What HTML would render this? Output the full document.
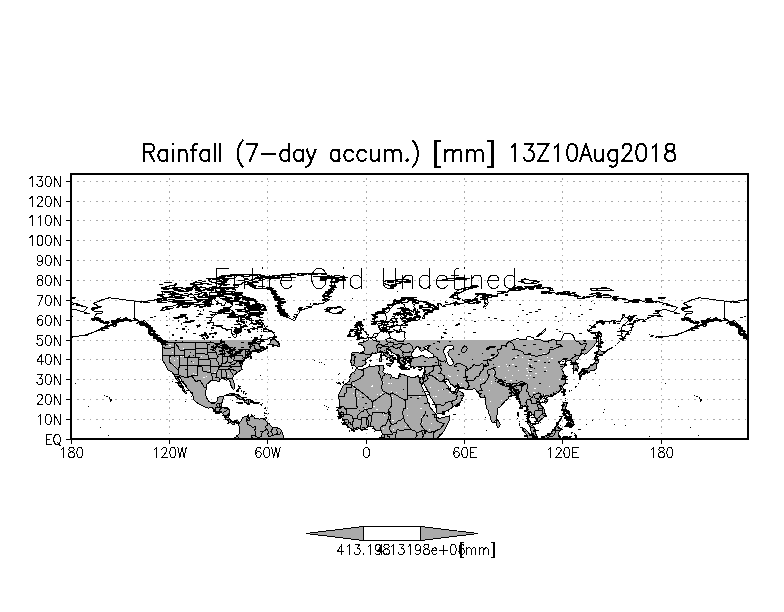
<!DOCTYPE html>
<html><head><meta charset="utf-8"><title>Rainfall</title>
<style>html,body{margin:0;padding:0;background:#fff;font-family:"Liberation Sans",sans-serif}svg{display:block}</style></head>
<body>
<svg width="784" height="612" viewBox="0 0 784 612" shape-rendering="crispEdges">
<defs>
<clipPath id="fr"><rect x="71" y="174" width="677" height="265"/></clipPath>
<clipPath id="band"><rect x="71" y="340" width="677" height="99.2"/></clipPath>
<path id="land" d="M90.7 309l2.4 -1.4l4.4 -0.6l3.3 0.8l-2.8 -1.5l-1.6 -1.4l-3.3 -1.2l2.5 -1.2l3.3 -1.2l3.2 -1.6l4.1 -1l3.3 -1l3.3 0.8l4.1 0.2l3.3 0.6l3.2 0.4l3.3 0.4l3.3 0.2l4.9 0.8l3.3 0.2l3.3 1l2.4 -0.8l3.3 -0.2l4.1 -1l2.5 0l2.4 -1l1.7 1.4l3.2 0.6l1.2 -1l2.9 0.4l2.5 0.2l4.1 1l2.4 0.4l3.3 0.6l1.7 1l-2 0.6l3.6 0.4l4.1 -0.4l2.5 0.4l1.1 1.6l1.6 -0.8l-0.8 -1.4l2.5 -0.6l2.9 0.6l3.3 0.4l3.3 0l3.3 0l1.6 -1.4l2 0.6l0.8 1.8l1.3 -1.4l1.6 -1.6l-0.9 -1.6l-2.3 -1.4l-0.5 -1.8l2.1 -1.4l2.5 0.4l1.6 1.8l1.3 2.2l2 1l0.8 1.4l2.8 0.6l0.5 1.8l1.6 0.2l1.2 -1.2l1.1 -2l0.7 -1.8l2.8 -0.2l2.4 0l1.2 1.2l-0.7 1.4l-1.3 0.6l2 1.4l-1.5 1.4l-2.1 0.9l-2.5 0.2l-1.6 0.2l-1.4 -0.8l-0.3 2l-2.8 0.4l-1 0.6l3.3 1l-1.1 0.8l-3.3 0.4l-1.6 0.6l-2.5 -0.4l2 1.6l-2 0.8l-0.8 1.4l-1.7 1.4l-1.1 2.3l-0.2 1.8l1 0.8l2 0l0.6 3l2.7 0l3.2 0.8l2.5 1.6l3.3 1l3.3 0.6l1.9 0l0.2 3.4l1.5 2.3l1.3 2l1.8 -0.4l1 -2l-0.4 -2.9l-1.1 -1.4l3.6 -1.4l1.5 -2.2l0 -2.6l-3.2 -1.8l1.7 -2.6l-0.8 -2.3l0 -2.2l1.1 -0.4l3.3 0.4l2.6 0l2.8 1.4l0.8 0.8l2.5 0.4l0.8 1.9l-0.5 2l2.1 1.4l2.5 -0.4l1.6 -0.6l1.3 -2.2l1.2 -0.9l0.8 1.7l2.5 3l1.3 2.8l2.4 2.4l3.2 1.2l1.6 1.2l1.3 1.4l1.2 1.9l0.1 1.4l-2.1 0.8l-2.8 0.4l-2.1 1.8l-3.3 0l-3.3 0l-4.1 0.2l-1.6 1.8l-2 1l-1.8 1.4l-2 2.4l2.2 -1.6l2.4 -1.8l3.6 -1.2l2.5 0.2l0.3 1.4l-2.4 0.8l1.3 0.8l0.1 1.2l0.7 1.3l1.6 0.8l2.5 0.2l1.3 0.8l-3.8 1.6l-3.2 2.2l-1.2 -0.6l0.3 -1.4l2.5 -1.6l-1.6 0l-2.5 0.6l0 0.8l-2.5 0.6l-2.4 1.2l-1.2 1.4l-0.1 1l0.5 1.4l0.8 0.2l-2 0.4l-2.1 0.6l-2 0.4l-0.5 0.8l0 1.5l-1.1 1.6l-1.2 -1l0.5 2.4l-1.3 2.2l-0.6 0.4l0.4 2l0.9 1.4l-2 1.2l-2 1.4l-1.8 1l-1.6 1.7l-1.7 1.4l-0.6 2.8l1.3 4l0.8 3.4l-0.1 2.7l-1.2 0.4l-1.3 -1.6l-1.5 -2.9l-0.1 -2.4l-1.3 -2.2l-1.2 -0.6l-1.8 0.8l-2 -1.4l-2.4 0l-1.7 0.2l-0.5 2.2l-1.9 0l-1.7 -0.8l-2.4 -0.4l-2.8 0.8l-2.1 1.8l-2 1.8l-0.2 3.1l-0.6 3l-0.2 4l0.8 3l1.3 2.3l0.9 1.6l1.6 0.8l1.2 0.8l2.1 -0.6l2 -0.2l1.3 -1.2l0.8 -2.5l0.3 -1.2l2.1 -0.6l2.5 -0.4l1.1 0.6l-0.8 2.6l-0.5 2.5l-1 1.4l-0.1 2.4l-0.8 1.8l1.8 0l2.8 0l2.4 0.2l2 1.4l-0.2 2.2l-0.3 2.9l-0.2 3l1.2 2l1.3 1.6l1.1 0.6l1.7 -0.4l1.4 -0.8l1.8 0.2l1.7 1.4l0.8 1.2l0.3 -1.2l1.3 -1.2l0.7 -2.4l1.3 -1.2l2.1 -0.4l2.2 -1.2l1.3 -1l-0.8 1.8l0.6 1.4l2.1 -1.6l0.4 -1.2l0.6 1.4l2 0.6l0.7 1.4l2.4 -0.2l2.5 1l1.6 -0.8l1.7 -0.4l1.6 0.2l-1.2 0.8l2 1l1.2 1.4l1.3 1.2l1.6 1.2l0.8 1.6l1.7 1.5l2.4 0.6l2.5 0.2l2.4 0.6l1.7 1.6l0.8 0.8l0.8 2.6l0.8 2.4l0.9 2.6l0 6.9l-49.2 0l-0.2 -7.5l1.8 -0.8l0.4 -1.2l2.1 -1.8l0.3 -2.4l-0.3 -3.2l0.1 -2.3l-0.8 -1l-0.6 -1.6l-0.4 -1.2l-1.6 -0.6l-0.8 1.2l-0.8 2l-0.9 -0.6l-1.1 -0.2l-1.3 -1l-0.8 -0.2l-1.2 -0.4l0.2 -1.4l-1.8 -0.8l-0.8 -0.4l-1 -0.8l0 -1.6l-1.5 -2l-1.3 -2l-0.5 -0.4l-1.1 0l-2.2 -0.7l-2.6 -0.6l-1.5 -1.4l-2.4 -2.8l-1.7 -0.4l-1.9 1l-2.5 -0.4l-2.4 -1.4l-1.7 -0.6l-2.4 -1.4l-2.5 -1.4l-2.1 -1.6l-2 -2.3l0.3 -2.4l-1.1 -2.6l-1.7 -2.4l-2.4 -2.6l-1.5 -1l-0.2 -1.7l-1.6 -2.2l-1.6 -1.4l-1.2 -1l-1 -2.6l-0.6 -1.8l-1.3 -0.8l-1.3 -0.4l0.1 2l2 2.6l1.1 2.2l1.3 2.8l1.2 1.9l1 2.6l0.6 1l1.3 1.8l-0.8 0.8l-1.1 -1.6l-2.2 -2.2l-0.3 -2.4l-2.1 -1.5l-1.7 -1.8l0.7 -1l-0.7 -1.6l-1.9 -2.6l-1.3 -2.4l-1 -2l-2.1 -2.5l-1.8 -1l-1.8 -0.6l-2 -3.8l-1.2 -2.4l-0.8 -1.2l-1.3 -2.4l-0.8 -1.7l0.1 -3.2l-0.3 -2l0.7 -3.4l0 -3l-1.2 -4.3l2.8 0.4l0.8 1.6l0.4 -1.8l-0.9 -1.4l-0.6 -0.6l-2.1 -1.4l-2.5 -1.4l-2.5 -1.6l-0.8 -2l-1.6 -1.9l-2 -2l0.3 -2l-2.4 -1l-1.7 -2l-2.1 -2l-2.8 -1l-1.6 0.6l-2.1 -1.2l-2.8 -2l-3.3 -0.4l-4.1 -0.1l-3.3 -1.2l-3.3 -0.4l-0.8 1.7l-2.4 1l-3 0.6l0.8 -2.5l2.5 -1.4l-2.8 0.8l-1.6 1.5l-1.7 1.4l-1.1 1l-0.5 1.6l-3.3 1.6l-3.3 2l-3.2 1.4l-3.3 1l-3.3 0.8l2.5 -1.2l3.2 -1.4l1.7 -1.2l3.3 -2l1.1 -2l-2 -0.6l-2.4 0l-3.3 0.4l0 -2.4l-3.3 -0.2l-2.4 -1.1l0 -2l-0.9 -0.2l1.7 -1.8l0.8 -1.4l3.3 -0.6l2.4 -0.2l0 -1.8l-3.2 0l-3.3 0l-2.5 -0.4l-2.4 -1.8zM293.9 320.5l-3.3 -1.9l-4.1 -1.4l-2.4 -2l-2.5 -3.4l-2.5 -3.6l-1.3 -2.9l1.3 -2l3.3 -2l-4.9 -1l-0.8 -2l-1.7 -3l-2.4 -2.9l-2.5 -3l-5.7 -1.4l-6.6 0.4l-4.9 -1l-3.3 -2l-2.4 -1.6l5.7 -1l4.9 -1.4l2.5 -1.9l-2.5 -1l6.6 -1.6l11.5 -1l11.4 -0.4l6.6 -1l9.8 -1l9.9 -0.2l8.2 0.8l8.1 1.4l-4.9 1.4l13.1 0.6l7.4 0l-4.1 2l-3.3 0.9l-3.2 2l0 2l0.8 2l-2.5 2l0.8 2l-1.6 1.4l-2.5 1.6l-3.2 1.9l3.2 1l0 1l-3.2 1l-3.3 1l5.7 0.4l-2.4 1.6l-3.3 1.6l-4.9 1l-4.9 0.8l-3.3 2.5l-3.3 1.4l-3.3 0.4l-3.3 1.2l-0.8 2l-1.6 2l-1.7 2l-0.4 2l-0.7 1.6l-1.3 0.7zM326.2 309l2.1 -1.6l2.5 1.8l1.9 -1.2l3.5 0l3.1 -0.8l2.6 0.6l1.8 2l-1.5 1.6l-3.2 1.2l-3.8 0.8l-2.8 -0.4l-3.3 -0.4l0.8 -1.2l-3.2 -0.8l2.8 -0.6l-3.3 -1zM357.1 367.6l-1.4 -1l-1.8 -1.2l-2.5 0.4l0.2 -3l-1.2 -0.6l1 -2.7l0.3 -3.2l-0.8 -2.4l2 -1.4l3.6 0.2l3.3 0.4l3.2 0l1 -2.4l0.2 -2l-0.2 -1.2l-1.6 -1.9l-1.3 -0.8l-2.3 -0.4l-0.5 -1.2l2 -0.8l3.1 0.4l0 -2l0.6 0.4l2.3 -0.2l2.2 -1.2l0.1 -1.6l1.5 -0.4l1.6 -0.6l1.2 -1.2l0.8 -2l1.3 -0.7l2.5 0l1.9 -0.4l0.7 -0.8l0.2 -1.8l-1 -1.4l0 -2.2l0.8 -0.8l2 -0.8l1.3 -0.4l-0.2 2.4l-0.5 1l-0.6 1.2l-0.4 1l0.7 0.8l1.6 1l2 -0.6l2.1 -0.2l1.2 1l2.9 -0.8l3.8 -1l0.8 0.8l1.6 0l2 -1.6l0 -1.6l0.2 -2l1 -1.2l1.4 -0.2l1 1.2l1.7 -0.2l0.3 -2.2l-1.5 -1l0 -0.8l2.1 -0.6l3.6 0.2l1.7 -0.6l3.6 -0.4l-2.5 -1.1l-3.6 0.2l-2.4 0.4l-3.3 0.5l-1.6 -0.9l-1.2 -1.2l0.2 -2l-0.4 -1.6l2.2 -1.4l3.3 -2.6l1.3 -1.4l-1.8 -0.6l-3.2 0.2l-1.3 1.4l-0.5 1.4l-1.1 1.2l-2.5 1.4l-1.9 1l-0.8 2l-0.2 1.6l2.1 1l0.7 0.9l-1.2 0.8l-1.9 1.4l-0.5 1.6l-0.5 2.4l-1 1l-2.1 0l-0.5 1.4l-2 0l-0.5 -1.2l-0.3 -1l-0.8 -2l-1.3 -2l-0.4 -1.2l-0.6 -1.4l-0.5 1.4l-1.3 0.6l-2 1.2l-2.1 0.4l-2.2 -1.2l-0.8 -1.8l-0.1 -1.9l-0.2 -2l0.5 -1.4l2 -1.2l2.4 -1.2l3 -0.6l1.6 -1.6l2 -1.6l1.6 -1.8l2.1 -1.9l2 -1.6l1.6 -1.4l2.5 -1.4l2.5 -1.2l3.2 -0.4l3.3 -1l3.6 -0.8l3.8 0.2l4.9 1.4l-1.6 1l3.2 0l2.5 0.8l4.1 0.4l4.1 1.4l3.3 1.4l1.1 2l-1.9 0.9l-3.3 0.2l-4.1 -0.6l-4.1 -0.3l0.8 0.9l2.1 2.4l0 1.2l3.6 1l1.7 -0.8l-2.2 -1.4l3 0.4l2.5 0.2l0.8 -1.6l2.4 -1.8l3.3 0.6l0.3 -1.7l-0.6 -2.6l0.3 -0.6l3.3 1.2l0.8 2.2l3.3 -1.6l2.4 -0.6l5 -0.8l1.6 0.4l4.9 -0.8l4.1 0.2l1.7 -2l2.4 -0.4l4.1 0.8l0.8 0.2l3.3 0.8l2.5 1l-1.7 -2.4l-1.1 -2.6l0.3 -1.4l2.5 -2l0.8 -1l1.6 -0.6l3.3 1l0.8 2.6l-0.8 2l0.8 3l1.7 1.4l-2.5 2.6l-0.8 0.9l2.4 -0.5l1.7 -2l0.8 -2.4l-1.3 -3l0.5 -2l1.6 -2l3.3 1l2.5 -0.4l3.2 -1.2l0 -1.3l4.1 -0.4l4.9 -0.4l1.7 -1.8l4.9 -1.4l4.9 -0.8l6.6 -0.2l4.9 -1l6.5 -2.2l3.3 0.6l1.7 1.2l8.2 0.4l2.4 1l0 2l-5.7 2l-4.9 1.5l4.9 -1.3l4.9 0.2l4.1 0.2l4.9 0.9l7.4 -0.5l5.7 0.2l2.5 0.7l2.4 2l-0.8 2l3.3 0.4l3.3 -1.4l4.9 0l5.7 -1.6l1.7 -0.8l4.1 0.4l4.9 0.4l4.9 0.2l2.5 1.6l4.1 1l6.5 -0.2l4.9 1.6l0 1.2l3.3 0l4.9 0l4.9 -0.4l3.3 1.2l0.8 -1.6l4.1 0.4l4.9 0.4l4.1 0.6l2.5 0.8l3.3 1l4.9 1.8l4.9 1l3.3 1.5l-3.3 3.4l-1.6 0.4l-4.1 -1l-4.1 -1.4l-1.7 0.6l-1.6 0.4l-2.5 1l-1.6 -0.4l1.6 2.4l1.7 2l-4.1 0l-4.1 1.4l-4.1 1.6l-2.8 1.9l-3.8 -0.5l-3.2 0.9l-2.5 -0.2l-2 1.4l-0.5 2.4l-1.6 0.4l1.6 2.2l-0.8 1l-1.1 2.4l-2.5 1l-0.5 2.5l-2.3 0.6l-0.5 2l-2.6 1.8l-1.1 -2l-0.7 -3.9l0.2 -4l1.8 -3l2.8 -1.6l2.4 -2.4l3 -1.9l2.8 -2l1.6 -2l-2.5 1l-4.1 0.4l-1.1 1l0.8 1.4l-3.8 -2.2l-2.1 0.4l-2.8 4.3l-1.6 -0.4l-2.5 1l-2.4 -0.2l-0.4 -1l-2.9 0.2l-1.6 0.4l-4.1 0l-4.1 0l-4.1 2.2l-2.5 2l-1.6 1.8l-3.3 2.6l-1.3 0.6l2.9 1.4l0.8 0.6l1.7 -0.4l2.4 -0.2l2.2 1.5l0.1 2l-0.6 1.4l-0.8 2l0 3l-0.4 1l-2.1 3l-1.1 1.3l-2.2 2.2l-1.6 1.6l-1.7 1.8l-2.4 1.4l-2.5 -0.8l-1.6 1.2l-0.5 0.6l-1.1 1.6l-0.5 1.4l-2 1.6l-1.6 0.5l0 1l1.4 1.4l1.5 2.6l0.3 2.4l-0.3 1.4l-2.1 0.8l-2.5 1l-0.1 -2.2l0.3 -2.6l0 -1.6l-1.8 -0.4l-0.8 -1.4l0.5 -2l-1.7 -0.8l-2.1 0.6l-2.5 1.6l0.4 -2.3l0.4 -1.4l-1.6 -0.4l-2 1.9l-2.1 1.4l-1.3 0.8l1 1.6l1.1 1.2l2.5 -0.6l3.3 0.6l-2.5 1.6l-1.1 1.2l-1.7 2l1.5 1.4l1 2.5l1.6 2.4l0.2 1.8l-1.8 1l1.6 0.8l0.3 1.6l-0.6 1.8l-1.5 1.6l-1.1 1.7l-0.7 1.8l-1.5 2l-1.1 0.8l-1.6 1.6l-1.7 1.2l-2.4 0.8l-0.9 0.4l-1.6 0.6l-2.5 1l-1.6 0.6l-0.3 1.8l-0.8 -2.2l-2.2 -0.6l-0.8 0.4l-2 1.4l-1.3 2.5l-0.5 1.4l1.3 2.2l1.7 2.4l1.6 1.6l0.8 2.4l0.5 2.9l-0.1 2.4l-1.2 1.6l-1.9 1.2l-0.9 0.8l-0.5 1l-1.6 1l-0.8 0.8l-0.2 -2.4l-0.6 -1.2l-1.7 -0.4l-0.8 -1.2l-1.1 -2l-2.2 -1l-0.1 -1.3l-1 -0.2l-0.5 0.5l0 2.4l-0.7 1.6l-0.6 1.8l0 2l1.3 1.6l0.8 2.6l2 0.8l1 1.1l1.4 2.4l0.5 1.6l-0.1 2.4l0.9 2l0.5 1.2l-1.4 -0.2l-1.8 -1.4l-1.7 -1.4l-1 -2.2l-0.5 -2.8l-0.3 -2.2l-0.8 -0.7l-1.6 -2.2l-0.7 -0.4l0 -2l0.5 -2.2l-0.2 -3l0.2 -2.4l-1 -2.1l-0.5 -2.8l0 -2l-1.1 -1l-1.3 0.8l-1.7 1.6l-1.5 -0.4l0.4 -3l-0.5 -2.6l-1 -2.2l-1.3 -1.1l-1 -1.4l-0.6 -2.2l-1.4 -0.6l-1.1 1.2l-2.1 0.4l-1.7 0.2l-1.6 0.6l-0.5 2l-1.2 0.9l-1.6 1.2l-1.6 2l-1.7 1.6l-1.3 1.8l-1.6 1.2l-1.5 1l-0.3 2l0.3 2.7l-0.7 2.2l-0.1 2.4l0 1l-1.3 2l-1.3 1l-1.2 1.4l-1.5 -1.6l-0.6 -2.2l-0.8 -3l-1.3 -2.6l-0.7 -3.3l-1.2 -2l-0.8 -3l-0.6 -3.8l-0.4 -2.1l-0.1 -2.4l-0.2 -2l-0.6 2l-1.8 0.8l-1.4 -0.4l-1.9 -2.4l1.6 -0.8l0.5 -0.8l-2.9 -0.4l-0.5 -1l-1.3 -1l-0.7 -1.2l-0.8 -1.2l-3.3 0.4l-3.3 0l-1.6 0.2l-3.3 -0.6l-2.8 -0.6l-1.3 -2.1l-1.1 -0.6l-2.5 0.9l-2.1 -0.3l-1.7 -1.4l-1.6 -0.8l-1.1 -2l-1 -2.2l-2 -0.8l-0.8 0.8l-0.8 0.8l0 1.2l1.1 2l1.3 1.6l1.2 1.3l0 2l1 1.4l0.3 -0.4l0.5 -2.2l0.5 2.2l-0.2 1.4l1.6 0.2l2.5 0.2l2.1 -2.4l1.3 -1.6l0.5 2.2l0.7 1.4l2 1.2l0.9 0.2l2 2.2l-0.8 2.4l-1.3 1.8l-1.2 2.7l-1.3 1.6l-2.4 1l-1.7 1.4l-2.4 0.8l-1.7 2l-2.4 1.2l-2.5 1.4l-2.5 1.4l-4 1.5l-2.5 0.2l-0.5 -1.5l-0.7 -2.6l-0.1 -2.4l-0.7 -2.4l-1.3 -2.6l-1.3 -2.4l-1.6 -1.9l-1 -1.6l-0.5 -3l-1.3 -2.4l-1.3 -1.6l-0.9 -2l-1.4 -2.5l-1 -1.4l-0.3 -3l-1 3l-0.2 0.6l-1.3 -1.6l-1.5 -2.8l-0.1 0.8l0.8 2l1.1 2l1 2.5l1.2 2.8l0.9 2l2 3.6l0.7 2l0.1 2.7l0.4 1.8l1.6 1.4l1.3 4.4l1.5 1.6l1.8 2l2 2.1l1.1 0.8l0.2 1.8l-0.9 0.2l1.2 0.6l1.6 1.6l2.5 -0.6l2.4 -0.8l2.5 -0.4l3.6 -1l-0.2 2.6l-0.8 2.6l-1.3 2.4l-1.3 2.9l-1.6 3.4l-1.7 2.6l-1.6 2l-1.6 1.4l-1.7 1.6l-1.6 1.6l-0.8 0.9l-2.5 5.4l-52.4 0l0.4 -5l0.4 -1.9l0.1 -1.4l0.4 -2.2l0 -1.8l-0.5 -1.4l-1 -1.2l-1 0l-1.8 0.2l-2 0.2l-1.1 -1.8l-1.3 -2l-1.8 -0.4l-2.3 0.2l-1.3 0.4l-2 1l-1.6 1l-1.7 0.6l-1.6 -0.6l-1.7 -0.2l-2.4 0.2l-3.3 1.4l-2.5 -1.4l-2.9 -2.6l-1.1 -0.9l-1.7 -1.2l-1.1 -1.8l-0.2 -1.8l-0.7 -0.4l-1.4 -2l-0.7 -1l-0.8 -1.6l-1.6 -1l-0.5 -2l-0.4 -1.7l-0.8 -1l1.2 -1.6l0.5 -1l0.3 -3l0.5 -2l-0.5 -2l-0.3 -1.9l-0.9 -1l0 -2l1.2 -2.4l0.8 -1.6l1.6 -3l0.7 -1.6l1.5 -1.7l0.8 -1.2l2.5 -1.4l2.1 -1.6l0.8 -2l-0.2 -2.4l1 -2.2l1.2 -1.4l1.4 -0.5l1.4 -1l0.9 -2.2l0.5 -1.2l1 -0.2l1.3 1.4l2.5 -0.2l1.6 0.4l1.7 -1.2l1.6 -0.4l2 -1.2l2.9 -0.6l3.3 0l2.5 -0.4l2.4 0.2l3 -0.8l0.8 0.8l1.1 -0.2l-0.6 1.4l0 1.2l0.6 1.4l-1.1 1.4l-0.5 0.6l1.3 0.6l0.7 0.9l1.8 0.8l1.4 -0.2l2.2 0.8l1.3 0.4l0.3 1.6l1.6 0.6l2.5 1l1.6 0.8l1.7 -1.4l0 -2l1.3 -1.4l2 -0.4l1.9 0.6l0.2 0.8l2.8 0.6l0.3 0.6l3.4 0.6l2.8 0.8l1.7 -0.8l1.6 -0.6l2.1 0.6l2 0.4l1.3 -0.6l0.8 -1.6l0.4 -1.6l0.8 -1.7l0.5 -1.6l0.1 -1.6l0.2 -1.4l0.3 -1l-1.1 0.2l-1.5 -0.4l-1.8 1.4l-1.6 0l-0.9 -0.8l-1.6 -0.6l-0.8 0.8l-1.7 0.4l-1.6 -1l-1.6 0l-0.2 -1.2l-0.3 -1.4l-1.2 -0.6l0.8 -0.6l-0.3 -1.2l-1 -0.6l0 -0.9l1.3 -0.8l1.7 0l1.6 -0.6l0 -0.8l-1.6 0.2l-1.2 0.6l-1.8 0.2l-0.3 -0.4l-1.6 -0.2l-1.3 0.2l-0.7 1.2l0.3 0.4l-1.1 -0.4l-0.7 -0.6l-0.5 1l0.7 1.5l0.5 1.4l1.1 1l0 0.6l-0.8 -0.4l-0.8 0.8l0.3 2l-1.1 0l-0.4 -1l-0.9 0.4l-0.7 -1.8l0.3 -1.2l-0.8 -0.4l-0.5 -1l-0.8 -1.4l-1.1 -1.3l-0.2 -1.8l-0.2 -1.2l-1.3 -1.2l-1.6 -1l-1.8 -1l-2 -1.4l-1.1 -2l-1 0.8l-0.5 -0.4l0.2 -1.2l-1.2 -0.2l-1.1 0.8l0 1.6l0.4 1l1.7 0.8l1 2.2l1.6 1.2l1.6 0.2l-0.3 0.8l1.7 0.8l1.6 0.8l0.8 1l-0.3 0.5l-1.3 -0.9l-0.5 -0.4l-1 1.3l0.8 1.6l-1 1.2l-0.8 1l-0.5 0l0 -0.6l0.5 -1.2l-0.5 -2.3l-1.1 -0.4l-0.8 -0.8l-0.5 -0.4l-1.2 -1l-1.6 -0.6l-0.5 -0.4l-1.2 -1.2l-1.6 -1l-0.3 -1.2l-0.8 -1.2l-1.5 -0.6l-1.5 1l-1.1 0.4l-1.8 1.2l-1.5 -0.4l-1.8 -0.4l-1.7 0.6l-0.1 1.6l0.1 1l-1.6 1l-2.1 0.8l-1 1.6l-1 1.3l0.8 1.4l-1.1 1l-0.3 1.4l-1.9 0.8l-0.6 1l-2.1 0l-1.5 0l-1.7 1.2zM356.7 339.8l2.4 -0.4l1.2 -0.4l2.4 -0.2l3.3 -0.4l2.3 -0.8l-1 -0.6l1.5 -2.2l-0.7 -0.6l-1.6 0l-0.2 -1.1l-0.6 -1l-1.7 -1.2l-0.6 -1.8l-1 -1l-1.3 0l0.8 -1l0.8 -1.4l0.3 -0.8l-2.7 -0.2l-1.2 0.4l1.5 -1.6l0.5 -0.6l-3.3 0l-0.8 1.6l-0.5 1.2l0.3 1.4l0.5 1l-0.6 1.2l1.4 -0.2l-0.3 1l1.6 0.4l1.4 -0.2l-0.5 1.2l0.8 1l0 0.8l-2.1 0.1l-0.5 0l0.5 1l0.4 0.6l-0.9 0.8l-1 0.6l1.6 0.4l2 0.4l0.5 -0.2l-1.3 0.6l-1.7 0.6l-1.9 1.6zM355.7 335.6l0.1 -2.2l1 -2.3l-1 -1.4l-1.8 -0.2l-1.6 0.6l-0.3 1.2l-2.5 0.4l0.3 1.6l0.9 0.5l-0.5 1l-1.2 1l0.5 1l0.8 0.2l2 -0.6l2.1 -0.6l1.2 -0.2zM580.5 371.8l2.3 -0.6l2.8 -0.6l2 0l0 1.6l1 0.6l1.6 -1.8l0.8 -0.4l1.5 0l1.1 0l1.4 -1.4l0.4 0.6l1.4 -1.4l-0.4 -2.2l0.7 -3l0.8 0l0.7 -2.4l-0.7 -1.9l-0.2 -1.8l-0.9 -0.2l-0.9 0.6l-0.5 1.2l-0.1 1.3l-0.2 2.2l-1.3 1.6l-1.3 1.6l-1.5 -0.6l-1 1.4l-1.1 1.6l-0.3 0.8l-1 0l-1.7 0l-1.9 0.2l-1.7 1.2l-1.6 1l-0.2 0.8zM580.5 372l1.3 0.6l0.4 1.3l-0.7 2.2l-0.8 1.2l-0.5 0.2l-0.8 -0.4l0 -2l-0.8 -0.8l0 -1.2l1.1 -0.5l0.8 -0.6zM583.2 372l1.6 -0.6l1.8 0l0.2 0.8l-0.9 0.9l-1.4 -0.1l-0.5 1.3l-1 -1l0.2 -1.3zM595.4 356.9l0.5 -1.6l0.4 -1.2l-0.4 -0.8l1.7 0.2l0.6 -2.6l0 -1.8l0.5 -0.2l1.7 1.8l2.1 1.2l1.6 -0.6l-0.1 1.4l1 0.6l-2.5 0.8l-1.6 1.8l-2.2 -1l-1.6 0l-0.5 0.6l0.6 0.8l-1.4 0.8l-0.4 -0.2zM598.7 347.9l0.8 -1.3l1.5 0.3l0 1l-0.6 -2.5l-0.5 -1.4l0.5 -2.4l2.1 0.4l0.6 0.6l-2.2 -1.6l0 -3l0.3 -3l-0.8 -1.9l-0.5 -1.8l-0.7 1.8l-0.8 1.9l0 2l0.5 2l0 3l-0.2 2l0 1.6l-0.1 1.3l0.1 1zM564.3 389.2l1.6 0.4l-0.8 2l-0.3 2l-0.8 2l-1 -1.6l0 -2l1 -1.8l0.3 -1zM544.1 401.1l1 -1.5l2.2 -0.2l0.6 0.9l-1 2l-1.4 0.8l-1.4 -0.8l0 -1.2zM496.8 420l0.6 -0.2l1.7 2.6l1 2l-0.4 1.9l-1.4 1.2l-1.2 -0.6l-0.3 -2.1l0.1 -2.4l-0.1 -2.4zM563.7 402.5l2.6 0.2l0.1 2.8l-1.1 2.4l0.2 2.6l1.4 0.6l2 0.8l0.5 2.3l-1.3 -1l-1.2 -0.7l-1.4 -0.8l-1.7 0l-0.1 -1.4l-1 -0.8l-0.2 -2.4l0.7 -0.8l0.1 -1.8l0.4 -2zM566.1 425.6l0.7 -1.8l1.3 -1.6l1.6 0.2l2 -1l0 -1.6l1.3 2l0.3 3l-0.5 1.9l-0.8 -0.9l-0.6 2.1l-1.4 -0.6l-0.8 -1.7l-0.8 -1.2l-1.1 0.2l-1.2 1zM569.7 414.4l1.7 0l0.6 2.6l-1.1 0l0.3 2l-0.7 0l-0.5 -2.2l-0.3 -2.4zM565.9 415.8l1.7 0.4l0.8 1.4l-0.3 3.4l-1.3 -1.4l-0.2 -1.4l-0.8 0.2l0.1 -2.6zM568.2 419.4l1 -2.4l0.2 1.4l-0.8 2l-0.4 -1zM558.1 422.6l1.6 -1.8l2 -2.6l0.1 -1.4l-0.9 1.4l-1.7 2.6l-1.1 1.8zM563.3 412.7l1.5 0l0.3 1.9l-0.8 0.2l-0.8 -1.4l-0.2 -0.7zM544.6 445.2l0 -8.9l1.2 -1l1.3 0.6l1.3 -1.6l2.5 -1.2l1.6 -2.4l1.2 -1l1.3 -1.4l1.1 -2l1.3 -0.9l1.2 0.9l0.3 1.2l2.5 1.4l-1.2 1.4l-1.1 1l-0.4 1.4l0.4 2.6l1.6 2l-1.6 0.6l-0.5 7.3l-14 0zM522.2 428.3l2.8 0.6l1.6 2l1.3 1.2l2 2.2l1.3 1l1.1 0.6l1.7 1.4l1.1 1l1 6.9l-7.9 0l0 -6.3l-0.4 -2.8l-1.8 -1.8l-1.8 -2.4l-1.7 -2.2l-0.3 -1.4zM562.3 445.2l0.4 -7.5l1.3 -1l1.9 0.6l2.5 0.2l2.5 -1.4l0.3 0.6l-1.2 1.6l-2.4 0.2l-2.5 -0.2l-1.6 0.2l-0.3 6.7l-0.9 0zM575 445.2l0 -7.9l0.8 -2.2l1.1 1.2l-1.1 1.4l1 1l-1 6.5l-0.8 0zM226.9 395.8l1.4 -1.6l2.5 -0.8l2.4 0l2.5 1.2l2.5 0.6l1.6 1.2l2.1 1.4l2.5 1.4l-1.3 0.5l-4.1 0l0.5 -1.3l-2.2 -0.8l-1.6 -1.4l-2.5 -0.8l-1.6 -0.6l-1.6 0.6l-1.7 0.6l-1.4 -0.2zM244.1 402.7l1.8 -2.8l2.1 0l2.5 0l1.6 1l1.8 1.4l-1 0.6l-2.4 0l-1.7 1l-1.6 -0.8l-3.1 -0.4zM237.7 402.9l2.1 -0.4l1.3 1l-1.3 0.4l-2.1 -1zM255.9 402.5l2.4 0.2l-0.1 0.8l-2.3 0l0 -1zM264.6 418l1.6 -0.2l-0.2 1.4l-1.4 0l0 -1.2zM268.8 344.8l1.3 -1.8l0.8 -2l1.7 -2.4l2.3 -1.8l-0.7 2.2l0.8 1l1.7 1l1.6 0.6l0.8 1.4l0 2l0.4 1.4l-1.5 0.2l-1.3 -1.2l-1.7 0.6l-1.6 -1l-2.1 -0.2l-2.5 0zM155.7 338.6l3 0.4l2.4 1.4l2 1.6l0.7 1.2l-1.8 -0.2l-2.5 -1.4l-2.5 -1.6l-1.3 -1.4zM260.6 346.6l2.2 0.3l1.6 0.2l-0.8 0.8l-2.2 -0.4l-0.8 -0.9zM260.3 340.2l3.3 0.6l1.3 1l-3 -0.4l-1.6 -1.2zM265.4 348.7l1.6 -2.7l1 1.9l-1.2 0.8l-1.4 0zM148 331.9l2 0.2l1.1 3.5l-1.8 -1.2l-1.3 -2.5zM112.8 325.1l2.8 -0.8l1 1.2l-2.7 1l-1.1 -1.4zM84.6 312.8l2.8 0.2l2 0.6l-2 0.4l-2.8 -0.4l0 -0.8zM91.8 319.8l2.5 -0.2l0.1 0.7l-2.1 0.2l-0.5 -0.7zM110.3 399.2l1.7 0.9l-1.2 1.4l-0.5 -1.4l0 -0.9zM109.2 397.6l1.1 0.4l-0.6 0.4l-0.5 -0.8zM106.7 396.4l0.8 0.4l-0.6 0.2l-0.2 -0.6zM104.3 395.2l0.6 0.2l-0.5 0.4l-0.1 -0.6zM265.2 306.9l-0.8 -1.6l-3.3 -1l-4.1 -1l-2.4 -2l0.8 -1.4l-4.1 -0.8l-2.5 -1.2l-4.1 -1.2l-3.3 -1l-3.2 -1l-4.1 -1.3l-1.7 -0.4l-4.1 0.4l-2.4 0.9l-0.8 -1.5l-6.3 -0.2l-0.3 2.7l0.8 2.4l2.5 1l3.3 1.2l1.6 0.4l4.9 0.2l4.1 0.2l2.8 0l0.5 0.6l2.4 1.4l2.5 1l2.5 1l0 2l-1.7 1.5l0.8 1l-5.7 0.4l-2.1 1l0.5 1.2l2.4 0l3.3 -0.6l3.3 1.4l1.6 1.6l3.3 0.6l3.3 0.8l2.4 0.8l1.7 -0.2l-3.3 -2l-2.5 -1.4l2.5 0.8l3.3 1.2l0.6 -1l1 -1.6l-1.6 -1l-4.1 -2l-0.8 -1l3.2 -0.6l2.5 1.6l1.6 1l2.5 -1.4l0.8 -1.9zM173.8 300.3l3.7 1.4l2.5 1.4l5.7 0l4.1 -0.6l4.1 0l4.9 -0.2l1.7 -1.4l-2.5 -1.6l-3.3 -1l-0.8 -2.6l-2.4 -1.8l-2.5 0.4l-0.5 2l-3.6 -1l-4.9 -0.4l-5.8 -0.4l-3.2 2.4l2.4 0.8l3.3 -0.2l-2.9 2.8zM161.1 296.5l3.3 1.4l4.1 -0.6l4.1 -1.6l3.3 -1.4l0.8 -0.7l-3.3 -1.6l-5.7 -0.6l-5.7 0.4l0.8 1.9l-2.5 1l0.8 1.8zM236.5 287.8l-4.9 -0.2l-6.5 0l-5.8 -0.2l2.5 -2.6l4.9 0.6l-3.3 -2l3.3 -1.4l-3.3 -1.6l4.9 -0.5l-6.5 -1l-4.9 -1.4l6.5 -1l8.2 -1.6l11.5 -0.6l11.5 0.2l9.8 1l-3.3 2l-4.9 0.8l-4.9 1.8l-3.3 1.3l-4.9 1l-1.7 1.6l-3.2 1.4l0 1.4l-1.7 1zM222.6 284l-4.1 -0.2l-4.1 -1l-4.9 -1.4l-0.8 -1.5l3.2 -1.8l4.1 0.8l3.3 1l3.3 1.5l0 2.6zM234.9 291.2l-6.6 0.2l-6.5 0l-6.6 -0.4l0 -2.2l-5.7 -1.4l5.7 -0.6l4.9 1.6l6.6 -0.6l5.7 1.2l3.3 0.8l-0.8 1.4zM173.4 289.8l5.8 1l6.5 0.4l5.8 -0.8l0.8 -1.6l-4.1 -1.2l-3.3 0.8l-4.1 -0.6l-4.9 0.2l-2.5 1.8zM198.8 296.3l4.1 1.2l4.1 -0.6l0.8 -2.2l-1.6 -1.7l-4.9 -0.2l-2.5 1.5l0 2zM209.5 295.9l4.1 0.4l4.1 -1.6l0 -1.9l-4.1 -0.6l-4.4 0.8l0.3 2.9zM195.6 290l5.7 0.6l4.1 -0.8l0 -2.4l-4.9 -0.4l-4.9 1l0 2zM164.4 288.4l4.9 0.4l4.9 -1.4l0.9 -1.8l-4.9 0.2l-5 1.2l-0.8 1.4zM193.9 285l5.8 -0.2l4.1 -1l-3.3 -1.4l-4.9 -0.4l-3.3 1.4l1.6 1.6zM207.8 290.4l4.1 0.6l1.7 -1.2l-3.3 -0.6l-2.5 1.2zM233.2 293.4l4.1 1.3l4.1 -0.2l-1.6 -1.1l-4.9 -0.6l-1.7 0.6zM223.4 309.6l3.3 -1l2.5 -0.2l3.2 2.8l1.7 1.2l-2.5 0.6l-3.3 0.8l-2.4 0l-2.5 -0.8l1.7 -1.4l-1.7 -2zM230 314.4l2.4 0l2.5 0.8l-2.5 0.6l-2.4 -0.6l0 -0.8zM234.4 315.4l1.3 0l0 1.6l-1.3 -0.4l0 -1.2zM202.9 302.3l3.3 0.8l3 -0.4l-0.5 -1.4l-2.5 -0.8l-3.3 1.8zM239 304.3l3.3 1l0 0.6l-2.5 -0.2l-0.8 -1.4zM231.6 333.8l3.3 0.6l-1.7 0.4l-1.6 -1zM234.9 327.1l1.6 0l0 1.4l-1.6 -0.4l0 -1zM383.2 282.4l2.5 -1.6l4.9 0l1.6 -0.4l4.9 0.6l4.1 1.8l-4.1 0.6l-0.8 2l-2.4 1.6l-3.3 -0.6l-2.5 -1.6l-4.1 -1.4l-0.8 -1zM395.5 280.1l6.6 -0.6l6.5 0.6l1.6 0.9l-6.5 0.8l-6.6 -0.8l-1.6 -0.9zM450.4 296.7l2.5 1.2l4.1 1l3.2 0l-2.4 -1.6l-0.8 -2l0.8 -1.6l-3.3 -0.1l-1.6 1.1l-2.5 2zM454.5 293.4l4.1 0l3.3 -1.6l4.1 -2l6.5 -1.8l5.8 -1.4l-4.1 -0.2l-6.6 1.2l-6.5 1.4l-3.3 1.4l-3.3 3zM443 279.5l6.6 0.9l6.5 -0.5l8.2 -0.4l4.9 -1l-8.1 -1l-9.9 1l-8.2 1zM521.7 282.4l6.5 1.4l6.6 0l3.3 -1.4l-2.5 -2l-5.7 0l-4.9 -1.9l-3.3 1.6l0 2.3zM590.5 289.8l4.9 1l6.6 -0.2l8.2 -0.2l3.3 0.4l-3.3 -1.8l-8.2 -0.6l-8.2 0l-3.3 1.4zM595.4 293.4l5 0.5l0.8 -0.5l-4.1 -1l-1.7 1zM658.5 298.3l2.5 0.4l3.3 -0.4l0.8 -0.6l-4.1 -0.4l-2.5 0.6l0 0.4zM445.5 301.9l2.4 0.4l0 0.4l-2.4 -0.4l0 -0.4zM461.9 299.9l2.4 0.4l0 0.6l-1.6 0l-0.8 -1zM386.5 363.8l1.6 -0.4l3.5 -0.2l-0.7 2l-0.3 1.2l-1.7 -0.6l-2.4 -1.2l0 -0.8zM379.4 358.1l1.7 -0.6l1 1.4l-0.4 2.5l-0.9 0.4l-1 -0.4l0 -2.1l-0.4 -1.2zM380.1 355.1l1.3 -1.2l0.2 2l-0.5 1.2l-0.7 -0.4l-0.3 -1.6zM404.5 368.8l1.7 0.2l2.1 0.2l0.8 0.2l-2.1 0.6l-2.3 -0.6l-0.2 -0.6zM418.9 369.8l1.2 -0.6l2.4 -0.8l-0.8 1.4l-1.6 0.8l-1.2 -0.8zM369.9 360.6l1.3 -0.6l0.4 0.6l-0.7 0.6l-1 -0.6zM403.7 362l2 0.6l0.6 1.2l-1 -0.6l-1.3 -0.6l-0.3 -0.6zM395.7 325.5l1.4 -1.2l-0.1 1l-1 0.8l-0.3 -0.6zM384 328.7l1.7 -0.8l0.9 0.8l-0.6 1l-1.6 0l-0.4 -1zM382.1 329.1l1.4 0l0 0.8l-1.1 0l-0.3 -0.8zM453.4 414.2l1.9 0l-0.6 0.6l-1.3 -0.6zM338.3 382.9l1.1 -0.2l-0.4 1l-0.7 -0.8zM340.1 383.5l0.7 0l-0.2 0.6l-0.5 -0.6zM342.6 382.5l0.6 -0.2l-0.1 1.2l-0.5 -1zM327.2 409.1l0.4 0l-0.1 0.6l-0.3 -0.6zM517.9 412.5l0.5 0.3l-0.1 3.4l-0.5 -0.2l0.1 -3.5zM519.6 424.8l0.3 0.4l-0.2 0.6l-0.1 -1zM604.5 351.9l1.6 -1l2.1 -1.6l1.7 -0.4l-2.2 1.4l-2.4 1.8l-0.8 -0.2zM611 348.3l1.7 -0.8l-0.9 1l-0.8 -0.2zM572.8 373l1.2 -0.2l-0.5 0.5l-0.7 -0.3zM575.3 387.2l1 -1.1l-0.5 0.9l-0.5 0.2zM634 322.1l1.6 -0.2l-0.8 1.2l-0.8 -1zM237.8 389.2l0.9 0l-0.2 1.8l-0.7 -0.4l0 -1.4zM238.5 385.9l1.3 0.7l-0.3 1l-1 -1.7zM245.2 397.2l1.2 -0.2l-0.4 0.8l-0.8 -0.6z"/>
<path id="landT" d="M563.7 402.5l2.6 0.2l0.1 2.8l-1.1 2.4l0.2 2.6l1.4 0.6l2 0.8l0.5 2.3l-1.3 -1l-1.2 -0.7l-1.4 -0.8l-1.7 0l-0.1 -1.4l-1 -0.8l-0.2 -2.4l0.7 -0.8l0.1 -1.8l0.4 -2zM566.1 425.6l0.7 -1.8l1.3 -1.6l1.6 0.2l2 -1l0 -1.6l1.3 2l0.3 3l-0.5 1.9l-0.8 -0.9l-0.6 2.1l-1.4 -0.6l-0.8 -1.7l-0.8 -1.2l-1.1 0.2l-1.2 1zM569.7 414.4l1.7 0l0.6 2.6l-1.1 0l0.3 2l-0.7 0l-0.5 -2.2l-0.3 -2.4zM565.9 415.8l1.7 0.4l0.8 1.4l-0.3 3.4l-1.3 -1.4l-0.2 -1.4l-0.8 0.2l0.1 -2.6zM568.2 419.4l1 -2.4l0.2 1.4l-0.8 2l-0.4 -1zM558.1 422.6l1.6 -1.8l2 -2.6l0.1 -1.4l-0.9 1.4l-1.7 2.6l-1.1 1.8zM563.3 412.7l1.5 0l0.3 1.9l-0.8 0.2l-0.8 -1.4l-0.2 -0.7zM268.8 344.8l1.3 -1.8l0.8 -2l1.7 -2.4l2.3 -1.8l-0.7 2.2l0.8 1l1.7 1l1.6 0.6l0.8 1.4l0 2l0.4 1.4l-1.5 0.2l-1.3 -1.2l-1.7 0.6l-1.6 -1l-2.1 -0.2l-2.5 0zM155.7 338.6l3 0.4l2.4 1.4l2 1.6l0.7 1.2l-1.8 -0.2l-2.5 -1.4l-2.5 -1.6l-1.3 -1.4zM148 331.9l2 0.2l1.1 3.5l-1.8 -1.2l-1.3 -2.5zM112.8 325.1l2.8 -0.8l1 1.2l-2.7 1l-1.1 -1.4zM265.2 306.9l-0.8 -1.6l-3.3 -1l-4.1 -1l-2.4 -2l0.8 -1.4l-4.1 -0.8l-2.5 -1.2l-4.1 -1.2l-3.3 -1l-3.2 -1l-4.1 -1.3l-1.7 -0.4l-4.1 0.4l-2.4 0.9l-0.8 -1.5l-6.3 -0.2l-0.3 2.7l0.8 2.4l2.5 1l3.3 1.2l1.6 0.4l4.9 0.2l4.1 0.2l2.8 0l0.5 0.6l2.4 1.4l2.5 1l2.5 1l0 2l-1.7 1.5l0.8 1l-5.7 0.4l-2.1 1l0.5 1.2l2.4 0l3.3 -0.6l3.3 1.4l1.6 1.6l3.3 0.6l3.3 0.8l2.4 0.8l1.7 -0.2l-3.3 -2l-2.5 -1.4l2.5 0.8l3.3 1.2l0.6 -1l1 -1.6l-1.6 -1l-4.1 -2l-0.8 -1l3.2 -0.6l2.5 1.6l1.6 1l2.5 -1.4l0.8 -1.9zM173.8 300.3l3.7 1.4l2.5 1.4l5.7 0l4.1 -0.6l4.1 0l4.9 -0.2l1.7 -1.4l-2.5 -1.6l-3.3 -1l-0.8 -2.6l-2.4 -1.8l-2.5 0.4l-0.5 2l-3.6 -1l-4.9 -0.4l-5.8 -0.4l-3.2 2.4l2.4 0.8l3.3 -0.2l-2.9 2.8zM161.1 296.5l3.3 1.4l4.1 -0.6l4.1 -1.6l3.3 -1.4l0.8 -0.7l-3.3 -1.6l-5.7 -0.6l-5.7 0.4l0.8 1.9l-2.5 1l0.8 1.8zM236.5 287.8l-4.9 -0.2l-6.5 0l-5.8 -0.2l2.5 -2.6l4.9 0.6l-3.3 -2l3.3 -1.4l-3.3 -1.6l4.9 -0.5l-6.5 -1l-4.9 -1.4l6.5 -1l8.2 -1.6l11.5 -0.6l11.5 0.2l9.8 1l-3.3 2l-4.9 0.8l-4.9 1.8l-3.3 1.3l-4.9 1l-1.7 1.6l-3.2 1.4l0 1.4l-1.7 1zM222.6 284l-4.1 -0.2l-4.1 -1l-4.9 -1.4l-0.8 -1.5l3.2 -1.8l4.1 0.8l3.3 1l3.3 1.5l0 2.6zM234.9 291.2l-6.6 0.2l-6.5 0l-6.6 -0.4l0 -2.2l-5.7 -1.4l5.7 -0.6l4.9 1.6l6.6 -0.6l5.7 1.2l3.3 0.8l-0.8 1.4zM173.4 289.8l5.8 1l6.5 0.4l5.8 -0.8l0.8 -1.6l-4.1 -1.2l-3.3 0.8l-4.1 -0.6l-4.9 0.2l-2.5 1.8zM198.8 296.3l4.1 1.2l4.1 -0.6l0.8 -2.2l-1.6 -1.7l-4.9 -0.2l-2.5 1.5l0 2zM209.5 295.9l4.1 0.4l4.1 -1.6l0 -1.9l-4.1 -0.6l-4.4 0.8l0.3 2.9zM195.6 290l5.7 0.6l4.1 -0.8l0 -2.4l-4.9 -0.4l-4.9 1l0 2zM164.4 288.4l4.9 0.4l4.9 -1.4l0.9 -1.8l-4.9 0.2l-5 1.2l-0.8 1.4zM193.9 285l5.8 -0.2l4.1 -1l-3.3 -1.4l-4.9 -0.4l-3.3 1.4l1.6 1.6zM207.8 290.4l4.1 0.6l1.7 -1.2l-3.3 -0.6l-2.5 1.2zM233.2 293.4l4.1 1.3l4.1 -0.2l-1.6 -1.1l-4.9 -0.6l-1.7 0.6zM223.4 309.6l3.3 -1l2.5 -0.2l3.2 2.8l1.7 1.2l-2.5 0.6l-3.3 0.8l-2.4 0l-2.5 -0.8l1.7 -1.4l-1.7 -2zM230 314.4l2.4 0l2.5 0.8l-2.5 0.6l-2.4 -0.6l0 -0.8zM234.4 315.4l1.3 0l0 1.6l-1.3 -0.4l0 -1.2zM202.9 302.3l3.3 0.8l3 -0.4l-0.5 -1.4l-2.5 -0.8l-3.3 1.8zM239 304.3l3.3 1l0 0.6l-2.5 -0.2l-0.8 -1.4zM383.2 282.4l2.5 -1.6l4.9 0l1.6 -0.4l4.9 0.6l4.1 1.8l-4.1 0.6l-0.8 2l-2.4 1.6l-3.3 -0.6l-2.5 -1.6l-4.1 -1.4l-0.8 -1zM395.5 280.1l6.6 -0.6l6.5 0.6l1.6 0.9l-6.5 0.8l-6.6 -0.8l-1.6 -0.9zM450.4 296.7l2.5 1.2l4.1 1l3.2 0l-2.4 -1.6l-0.8 -2l0.8 -1.6l-3.3 -0.1l-1.6 1.1l-2.5 2zM454.5 293.4l4.1 0l3.3 -1.6l4.1 -2l6.5 -1.8l5.8 -1.4l-4.1 -0.2l-6.6 1.2l-6.5 1.4l-3.3 1.4l-3.3 3z"/>
<path id="bord" d="M134.9 301.1l0 18.5l3.3 0.4l2.5 2.3l1.6 -1.2l2.5 -0.4l2.4 2.4l2.5 3l3.2 2l0 2M164.1 342l45.9 0l0.6 -0.6l0.4 1.2l2.6 0.2l2.4 1l3.3 0.2l1.7 -0.6l6 2.8l0.5 0.7l1.7 1l1.6 1.4l0.2 4.6l-1 1.4l-0.2 0.6l3.4 -0.6l3.3 -1l0 -1l1.7 -0.6l2.4 -1l2.5 -1.8l5.7 0l1.2 -0.8l0.8 -1.6l0.5 -0.9l1.3 -1.4l1.5 0.2l0.8 0.6l0 2.3l0.6 1.2l0.7 0.4M174.1 374.7l3.9 -0.4l-0.1 0.4l6.2 2.4l4.6 0l0 -1l2.8 0l2.4 2.2l0.8 2.2l2.2 1.2l1.1 -1.6l1.7 0l1.6 2.6l1.6 2l0.9 2.1l2.9 1M214.9 410.5l0.3 -1.6l0.5 -1.4l2 -0.2l-1.5 -2.2l0.7 -1.2l2.9 0l0 3.8M219.8 403.9l0.8 -0.4l0.7 -1M221.3 408.1l-1.5 1.8l-0.3 0.8l-1.2 1.4M219.6 410.7l1.4 0.8l1.1 1.2M222.9 413.4l1 -1.5l2 -0.4l1.1 -1.6l2.6 -0.4M225.5 417.2l1.5 0.2l1.8 0.4M230.1 423.2l0 -1.8l0.5 -1M238.3 425l1 -2.6M249.1 415.8l-1.9 1.4l-0.8 3.2l0.9 2.2l0.7 2l2.1 0.8l2 1.7l3.3 -0.2l-0.5 3.4l0.8 2.4l-0.3 2.2l1 2M256.4 436.9l-1 -1.2l-3.8 0.2l0.5 2l-0.8 0.4l0 2.9M236.9 436.5l1.8 1.2l1.9 1.2l2 0.5M256.4 436.9l2.3 0.8l2.4 -1.4l0 -2l1.7 -2.6l-2.5 -0.6l2.8 0.2l2.1 -0.6l1.3 -1.8M266.5 428.9l-1.1 -1.4l0.6 -1.5l1.2 -0.6l0.6 -2.6M266.5 428.9l1.2 0.4l0.3 1.4l0.5 1.6l-0.8 2l0.5 1.4l1.4 1.2l2.5 -1.4l1.3 0M272.3 427.5l-0.2 1.8l-1.2 2l0.9 1.4l1.6 2.8M277.5 427.7l-0.8 1.8l0.8 2.8l-1 2.4M273.4 435.5l1 -1.2l2.1 0.4l2.6 0.2l0.9 -0.8l1.3 -2.8M248.5 400.1l0 1.8l-0.2 1.6M248.7 417.6l0.9 1.8l-0.3 1.6l-1.3 -0.2l0 -1.8l0.7 -1.4M225.2 415.6l1.5 0l0.3 1.4l-1.5 0l-0.3 -1.4M344.4 384.3l7.3 0M351.7 384.3l0 3.3l-5.4 0l0 5l-1.6 1l0 3.4l-6.4 0M351.7 384.3l0 -2l6.1 -2.6l2.3 -1.4l1 -1.8l2.9 -1l-0.8 -2.7l-0.2 -2l-0.6 -1.2M351.7 385.1l6.4 4.5l9.9 7.8l0.9 1.6l2.3 0.9l0.2 1.6l1.5 -0.2l2.9 -1.4l2.5 -2.1l7.4 -5.2M385.7 392.6l-3.3 -2l-0.8 -3.6l0.6 -2.3l-0.1 -3l-0.5 -2.4M381.6 379.3l-0.8 -1.6l0 -2l-1.2 -1l-1.3 -2.5l1.1 -1.8l0.2 -2.6l0.5 -1.8M381.6 379.3l1.3 -1.4l0 -1.8l1.9 -1.4l0 -1.4M407 376.5l0 19.1l19.5 0M407 395.6l0 4l-1.7 0l0 0.9l-13.1 -7.7l-1.6 0.8l-1.3 0.8l-3.6 -1.8M358.1 389.6l-2.8 0l1.7 16.9l0.3 0.4l-0.5 1.6l-6 0l-2.3 0.2l-1.3 -0.4l-1.2 1.6M346 409.9l-2.1 -2.8l-1.7 -0.8l-2.4 0.2l-0.8 1M346 409.9l0.3 2.2l1 2.5M347.3 414.6l-3.8 -0.6l-4.9 0.6M343.5 414l0 2l-2.1 1.6M338.5 412.3l2.9 -0.4l2 0.8l-2.3 0.3l-2.6 0.2M347.3 414.6l2.3 0.4l2 0.4l1 2l0.3 1.6M344.2 421.4l1.3 -1.8l2.1 -0.2l1 1.8l0.5 1.2M349.1 422.4l1.3 0.2l0.2 2l1.5 -0.4M349.1 422.4l-1.9 3.2M352.9 419l0.5 1.6l-0.8 1.8l-0.5 1.8l0.3 2.3l1.3 1l0 3M352.9 419l2.9 -1l1.2 0.6M357 418.6l0.3 -2.8l1.5 -1.8l1.5 -1.2l1.1 -1.3l1.3 -0.4l2.2 -1.8l1.4 0.2M366.3 409.5l1.8 -0.6l3.6 -0.2l1.2 -2.8l0 -4.6M360.9 429.1l-0.1 -3.3l0.8 -2.2l-0.2 -3l0 -3.2M357 418.6l2.4 1.2l2 -0.4M361.4 417.4l4.6 -0.2M368 427.1l-1 -1.7l-0.2 -3l-0.5 -3l-0.3 -2.2M368.6 426.9l0 -5.5l-1.3 -2.8l0.2 -1.2M370.4 426.5l0 -3.1l1.5 -4.4l0 -3M366 417.2l1.5 0.2l2.3 -2.6l2.1 1.2M366.3 409.5l1.3 3.2l2 1.9M371.9 416l0.7 -3.5l3.2 -0.4l3 0.7l3.6 0l4.1 0.4l1.8 -1.1M388.3 412.1l-0.2 -1.6l3.3 -4.6l0 -6.3l-0.8 -6M379.9 430.1l1.2 -3.2l2.1 -1.5l2.1 0l1.7 -3l1.6 -5l0.7 -2.8l-0.2 -1.4l-0.8 -1.1M389.1 413.2l1.5 2l0.1 4.2l-1.8 0l2.5 5M391.4 424.4l2.5 -0.4l2.6 -0.8l0.6 -1.8l3.3 -1l3.1 -2.8M403.5 417.6l-0.6 -3.2l-0.8 -1l0.8 -2.3l0.8 -3l1.6 0l0 -7.6M391.4 424.4l-1.6 2.5l0.1 2.8l2.3 4l0.3 1.2M382.1 434.7l2.4 0.2l3.3 0l4.7 0M384.5 434.9l0 2.4l-2.4 0M387.8 434.9l0 1.8l1.6 -0.2l0.4 3.7M392.5 434.9l0.7 -2.6l3.3 0M396.5 432.3l-0.8 2.6l-0.5 3.8l-0.2 1.5M396.5 432.3l0 -1.6l1.5 -1.4l2.4 1.4l2.5 0.2l1.6 -1l2.5 -0.6l3.9 -0.2M403.5 417.6l1.3 4.4l1.4 1l1.3 1.8l1.9 2.5l1.5 1.8M410.9 429.1l1.6 1.6l1.8 -0.4l2.3 2M416.6 432.3l-0.1 2.2l0.8 0.6l-1.3 1.8l-1 1.4l-0.3 1.9M416.6 432.3l1.8 -0.2l2.5 -0.4l0.8 -0.8l3.1 -0.8M421.7 430.9l0.8 2l0.9 2.8l-0.9 1.6l-0.8 1.6l-0.1 2.3M424.8 430.1l1 0.4l2.5 1.6l2.4 0.4l2.2 -1.6l1.8 0.6M434.7 431.5l-1.5 2.2l0 5.5l0.8 3.4M434.7 431.5l1.8 -1.2l3.3 -1l4.9 -5.9l-1.7 0l-4.9 -1.8l-1.6 -1.4l-0.5 -1.8l0.3 -1M436.3 417.4l-1.8 0l0 -1.4l1 -1.6l1.1 -0.4M424.8 430.1l-1.4 -1.8l-1.7 -2l-1.6 -2.5l1.6 -1.6l0.2 -3.8l1.5 -2l1.8 -2.4l0.6 -3.1M418.1 440.2l0.3 -1.1l1.7 -0.6l1.6 0.2l0.2 1.5M425 434.3l-0.3 -2.2l0.3 -1.8l0.5 2l-0.5 2M388.1 412.8l1.2 -0.9l1 1.1l-1 0.8l-1.2 -1M426.8 415l0.7 0l0 1l-0.7 0l0 -1M351.6 356.1l1 -0.2l2.7 0.2l0.5 0.6l-1.1 1.2l-0.2 2.5l-0.8 0.2l0.8 1.2l-0.5 1.2l0.5 0.4l-0.8 1.4l0.2 0.6M363 353.1l2.2 1.2l1.9 0l1.7 0.6l2.4 0.2M378.3 352.3l-0.8 -1l0 -1.4l-0.4 -1.6l0.4 -0.2M377.5 348.1l-1.5 -0.6l0 -0.8l1.5 -1.7l1 -0.2M378.5 344.8l0 -1.2l0.9 -1.6l-2.9 -1M376.5 341l-1 0l-1.6 -1l-1 0l-1.7 -1.6l-1.1 -0.6M371.6 337.2l1.4 0l1.2 -0.2l1.3 0.6l0.3 0.8M375.8 338.4l0 -2l1.3 -0.2l0.4 -1.2l0.3 -1.6M375.8 338.4l0.4 1.2l0.3 1.4M378.5 344.8l1.6 -0.2l1.6 0.4M381.7 345l-0.1 1l1.4 0.2M377.5 348.1l1.6 -0.2l0.8 -0.6l0.9 1l0.8 -1.2l1.4 -0.2l0 -0.7M383 346.2l1 0.2l2 -0.4l0.5 0.6l2 0.3M381.7 345l1.5 0l0.8 0.2l2 -0.4l1.3 0.2l-0.3 -1.2l1.6 -1.2M388.6 342.6l-2.1 -1.6l-0.7 -1.6l1.5 -0.4l2.1 -1l0.9 0.2M390.3 338.2l0.3 -0.8l-0.7 -1.4l0 -1.2l-0.6 -0.8l0 -1.7M380.3 330.3l1.4 0M390.3 338.2l1.9 0.6l1.5 0.6l1.8 0.6l1.3 1M388.6 342.6l2 -0.6l2.4 0.4l0.9 0.4M393.9 342.8l0.1 1.2l2.8 0.4l2 -0.8l2.4 -0.6l1 0.2M396.8 341l1.6 0.6l2 -0.4l2.6 0.6M394 344l-1 1l-0.6 1.2M388.5 346.9l1.4 0.2l1.7 -0.5l0.8 -0.4M388.5 346.9l-0.2 1.2l0.3 0.6M392.4 346.2l0.8 0.7l1.8 1.2l2 0l2.3 -0.4M399.3 347.7l1.4 -0.6l1.4 -2.1l1.4 -1l-1.3 -0.8M403 341.8l0.2 -1l2.1 -1.8l-0.6 -2l0 -2.2l0.5 -2.5l-0.7 -0.2l-1.1 -0.8l-5 0M403.5 344l2.7 0.2l3.4 -0.8l2.5 2.8l0.1 2.7l2.5 0.6M403.2 351.5l0.5 0.8l4.1 0.4l2.4 -1l2.7 0.8M399.3 347.7l1.8 2.6l2.1 1.2M403.2 351.5l-0.5 2l0.8 1.4l-0.8 0.4l0.8 2M403.5 357.3l2.7 -0.4l2.4 0.4l0.7 -0.8M409.3 356.5l1.8 -0.6l0.8 0M409.3 356.5l0.3 0.8l-1 1M398.8 360.4l1 -0.7l0.6 -1.4l3.1 -1M400.4 358.3l-0.8 -1l0.2 -1.4l-1 -1.2l-1 1.4M384.2 322.1l1.1 -1.4l1.2 -1.1l-0.5 -1.4l0 -2.4l-0.3 -2.6l2.9 -1.4l1.2 -2.6l1.6 -1.6l1.6 -2.3l2.5 -2l3.8 -1M399.3 302.3l1.9 1l3.3 1.2l0.5 2.2l0.3 1.9M399.3 302.3l2.8 0l4.9 0.6l1.6 -2.2l3.3 -0.4l1.6 1.6l-0.1 0.4M413.5 301.9l3 -1.2M413.4 302.3l-0.7 1.6l2.5 1l-1.7 1.6l1.7 2.3l-0.5 1.8l1.3 1.6l1.6 2.2l-2.4 2.2l-3.6 2.6M415.7 320.1l-0.5 -1.9l1.6 -1.2l3 0.8l-0.5 2l-2.5 0.5l-1.1 -0.2M422.5 318.2l0.9 -2.6l0.8 -0.6l0.8 2l-0.8 1.4l-1.7 -0.2M386.3 322.9l1.3 -1.4l1.3 0.6l-1.3 1.2l-1.3 -0.4M425.2 368.2l0.8 -0.8l0.1 -1.2l2.2 0l3.3 0l3.7 -0.8M435.3 365.4l4.1 0.2M439.4 365.6l-1 -1.8l0.2 -2.8l0.8 -0.6M439.4 360.4l-1.9 -0.9l-0.2 -1.8l-1.6 -0.8l-1.7 0M439.4 360.4l2.8 1.6l2.5 -1.2l1.4 2.2M454.3 365.2l2.7 -1.4l2.7 -0.4l3.3 1.4l3.3 1.8l0 2M439.4 365.6l1 2.2l1.3 1.6l-1.1 2.4l0.8 1.9l2.8 2l0 2l1.3 2M435.3 365.4l-1.8 1.4l0 3.4l-3.9 2.8M429.6 373l0.6 2.3M430.2 375.3l2 0.6l2.6 1.6l4.5 3.8l2.9 0.2l1.6 0.2M442.2 381.5l1.5 -2l1 0.2M443.8 381.7l1.5 1M429.6 373l-3.3 2.1l-1.8 -0.8M424.8 370.6l1 0.2l-0.3 1.4l-0.8 0.9M423.5 373.5l1.2 -0.4l-0.4 1.6l-0.1 2l-0.8 4M422 377.1l1.2 3.6M430.2 375.3l-3.6 1.4l1.7 2l-0.8 1l-2.5 1.6l-1.6 -0.4M436.1 406.7l0.7 -2l2.1 0l3.3 0.4l1.6 0.4l2.5 -3.2l4.9 -0.8M451.2 401.5l4.9 -1.9l1.2 -4l-0.8 -1.4M456.5 394.2l-4.3 -0.6l-1.6 -2.4M451.2 401.5l1.8 4.6M456.5 394.2l0.9 -3l0.9 -1.4l-0.4 -2.2M449.3 390.2l0.8 0.2M466.3 368.6l-1 2.6l0.5 1.6l-0.6 0.9l0.4 3l1.7 0.2l-1.5 3.2M465.8 380.1l1.5 1.6l1.6 1.6l0 2l0.8 1l-2.4 1.3l-0.3 1.6M465.8 380.1l2.6 0.8l2.5 0l3.8 -1l0.6 -2.6l2.1 -0.8l2.2 -0.8l0.3 -2l0.8 -0.6l0 -1.3l1.7 -1l0.9 -2l-0.1 -1.6l2.4 -1l2.5 -0.4M466.3 368.6l1.8 0.6l1.1 -0.2l2.5 -1.8l2 -2.4l3.4 0.6l2.5 0.2l1.6 -1.6l0.8 -1l1.2 1l0.1 2.4l2.3 -1.4l3.2 0.4M477.8 392.2l1 -1.2l3.6 -0.2l-1.4 -2.6l-0.3 -4.1l3.1 -0.2l1.7 -2.2l1.6 -2l1.2 -2.2l-0.2 -2.8l1.5 0.4l-2.3 -1.4l0 -3.3l4.6 -1.6l1.6 0M493.5 368.8l1.5 2l0.5 3.9l-1 0l0.6 2.6l3.7 2M498.8 379.3l1.6 -0.2l3.3 2.8l3.2 1.8l3.5 0.2M498.8 379.3l-1.5 2.8l1.8 1l2.9 1.8l3.3 1.2l3.3 0.5l1.8 0l0 -2.7M510.4 383.9l1.3 1.2M511.7 385.1l1.5 -1.8l2.9 0.6M511.7 385.1l0.2 1l4.9 -0.2l-0.7 -2M516.1 383.9l3.1 -1.6l3.3 -0.8l1.7 1.2l1.3 0.6M525.5 383.3l-1.8 1.8l-1.7 1.3l-1 2.8l0.2 1.8l-2.3 0.6l0.2 1.6l-0.5 2l-0.8 1.8l-0.5 1.2M510.9 386.8l1 0.2l1.3 0.6l0 1.4l4.2 0.6l-1.9 2l0 1.4l0.6 0.6l1.2 2l0.5 1.4M510.9 386.8l-0.5 1.2l1.1 1.2l-1.3 1.2l1.2 1l-0.2 1.8l0.7 2.2l0 0.6M525.5 383.3l2.3 1.4l0 3.1l-1.8 2.2l0.1 1.6l1.8 0l0.7 1.8l0.5 1.8l1.1 1.4l1.7 0.6M531.9 397.2l-1.8 1.8M530.1 399l-1.7 0.4l-2.1 0.9l-0.2 2.2l-0.5 0l2.2 4.4l-0.9 2.2l1.7 3l-0.2 2.1l0.8 1.8l-1.3 2.6l-0.3 0.8M530.1 399l0.6 1.5l1.3 0l-0.5 3.2l1.8 -0.6l1.3 0.6l1.8 -0.8l1.4 1.8l-0.2 2l1.5 1.8l-0.7 2.4M538.4 410.9l-2.8 -0.2l-1.6 1.6l0.6 3.7M538.4 410.9l1.3 -0.2l2.5 -0.6M542.2 410.1l0 -2.6l-1.7 -2l-1.6 -2.4l-2.1 -2.6l1 -1.5l-2.7 -1l-1.6 -3.2M533.5 394.8l-0.8 2.4l-0.8 0M533.5 394.8l2.1 -0.6l3 -1.2l2.3 1l0 1.6l2.1 1M542.2 410.1l0 4.3l-2.5 1.6l-0.3 1.4l-2.1 1.2M530.2 426.3l1.5 1.6l1.6 -1M545.6 435.3l0.7 1.6l2.4 0.4l1.7 -1l2.4 0l1.7 -2l1.1 -3.4l3 0M553 430.1l1.1 1l0.9 -1.6M509.9 341.6l3.6 2.8l1.6 4.5l7.4 2.6l1.7 2.8l5.7 0.4l6.5 1.6l5 -1.2l4.9 -0.6l3.3 -2.2l-0.4 -2.4l3.6 0l3.3 -2l4.1 -1.5l2.1 0.2l-2.9 -2.4l-3.3 0.2l1.2 -4M509.9 341.6l3.6 -1.8l4.1 -1.4l3.3 1.6l5.7 -0.4l0.5 -3.2l6.4 1l0.2 1.6l6 0.4l4.1 2l4.1 -0.2l4.9 -1.6l4.5 0.8M557.3 340.4l1.8 0.6l2.3 -1.4l2.1 -4.6l0.8 -1.6l4.1 -0.3l4.1 1.3l2.5 5.2l0 0.8l4.1 1.8l1.6 2.4l6.1 -1.4l-1.2 2.4l-1.3 3.7l-3.3 0.6l0.2 3l-1.2 2.2M580 355.1l-2.6 0.8l-1.6 0l-1.7 1l-1.6 1.2l-2.6 1.8M572.7 364.4l1.4 -1.2l2.3 -0.6M509.9 341.6l-1.3 0.4l-2.5 2l0 1.8l-4.1 -0.2l-1.1 3.3l-3.8 1l1.3 3.6l-1 2l-3.6 2.4l-3.2 1.2l-3.3 0.8l-0.5 0.9l2 4.6M536 336.8l2.1 -0.4l2.4 -1.8l3.3 -2.1l2.2 -3.2l-0.9 -0.6l-2.1 2.4l-2.5 2.2l-3.2 2.7l-1.3 0.8M486.5 348.9l1.6 -1.4l2.5 -0.9l3.2 0.1l1.7 0.2l-1.7 0.6l-3.2 -0.2l-1.7 1l-1.3 1.6l-1.1 -1M490.9 355.1l1.8 -0.8l1.8 0.6l-1.8 0.8l-1.8 -0.6M440.1 363.4l0.6 0.8l0.4 1.2l-0.9 -0.4l-0.1 -1.6M435.7 362.2l1.4 -0.2l-0.3 1l-1.1 -0.2l0 -0.6M529.4 365.6l1.3 0l0 0.8l-1.1 0l-0.2 -0.8M582.3 349.3l1.3 0.2l-0.4 1.2l-0.9 -0.4l0 -1M162.8 347.5l1.6 0.2l0.8 1l2.5 -0.2l2.8 -0.4l0.5 -0.2l3.2 0M162.4 355.9l21.6 0M174.2 342l0 5.9l0.2 1l0.7 1l-0.9 1.4l0 4.6M169.3 355.9l0 5.9l8.9 8l0 1.4l-0.2 3.1M179.1 355.9l0 11.5l-1.1 0.2l0.2 2.2M179.1 365.8l31.9 0M187.3 357.9l0 19.2M184 349.9l11.5 0l0 8l-11.5 0l0 -8M184 355.9l0 2M175.8 342l0 2l0.6 1l1.9 1.7l0.4 2.2l1.3 1l0.8 1l3.2 0M195.5 342l0 7.9M195.5 348.1l12.2 0M195.5 353.9l9.1 0l3.2 1M198.8 359.9l11 0M195.5 357.9l3.3 0l0 7.9M187.3 357.9l8.2 0M197.2 365.8l0 9.9l-5.9 0l0.2 0.4M197.2 366.8l4.9 0l0 3.8l3.3 1.2l2.4 0.4l3.3 0.4M206.7 342l0.7 4l0.3 2.1l0.2 1.2l0 3.6M207.9 352.9l8.6 0M209 358.7l7.2 0M207.9 352.9l-0.1 2l0.9 2l0.3 1.8l0.8 1.2l1.2 1.7l0 11M211.9 372.7l0 3l0.4 2l0 2.4M211 366.8l7.2 0l0 1l0.8 0M211.9 373.7l4.6 0M213.9 346.6l0 2.3l0.2 1.6l2.3 1.8l0.1 0.6l0.2 1.6l1.5 1.8l-1.3 1.8l-0.7 1l0 1.1l1.2 1.6l0.8 0.6l-0.2 1.4l1.3 1.4l0.5 0.6l-0.5 1l-0.3 1l-1 2l-1.1 2.6l-0.4 1.3l0.4 2l-1 2l3.1 0l0 1.6M217.5 354.9l4.6 0M217.8 346.7l2.3 1.2l1.7 0.4l0.6 1.4M222.6 356.5l0 4.7l-0.2 1l-0.6 1.6M227 356.5l0 5.1M222.6 356.5l6.7 0M234.1 355.9l0 2.8l-0.4 1.7l-1.6 1.4l-0.8 0.8l-0.7 0.4l-1.8 -0.4l-1.8 -1l-1.1 1.2l-1.7 1l-1.6 0.2l-0.8 -0.2l-0.8 1.8l-1.2 0.2M219.3 366.7l22.3 0M218 369.8l11.8 0M221.4 369.8l-0.3 6.1l0 3.2M225.7 369.8l0.7 4.1l0.3 1.8l0 2M222.6 379.1l-0.2 -1.4l4.3 0l0.2 0.6l4.4 0.2l1.1 -0.2M229.8 369.8l1.3 2l1.3 1.9l0.7 1.8M229.8 369.8l1.3 -0.4l2.1 0.2l0.4 0.6l1.8 0l1.9 1.8M227.8 369.8l0.9 -1l1.6 -1l1.8 -1.1M228.8 366.6l1.8 -1.4l1 -0.4l-1 -1.4l0 -0.4M231.6 364.8l2.8 0l0.5 -1.2l1.3 -0.8l1.5 -1.8l0.8 0.2M234.1 360.4l7.7 0l0 2.4l1.1 0.1M235.7 361.4l2 -0.8l0.8 0.6l1.3 0.8l0 1.2l1.2 0.6M235.2 355.9l7.2 0l0.5 1.2l0.7 0l-0.7 1l-0.1 0.6l0.6 0.8l-1 0.7M243.6 357.1l1.1 0.8M245.5 357.5l0 -7.6M247.2 354.5l0.5 -2l1.1 -2.6M245.9 354.5l3.7 0l0.4 -0.4M245.5 355.8l2.8 0l0 1.5M250.1 353.7l-0.5 -2.8l-0.1 -1.6M241 365.8l-0.2 -2l-0.2 -2.4l0.8 -0.6l-0.1 2l0.3 1.2M242.9 362.2l-0.6 -1.2l0.9 0.4M215.1 346.6l2.6 0.1l2.4 -0.7l1.7 -0.8l0.8 1.5l1.6 0.2l2.5 -0.5l0.8 0.5l-0.3 -1.5l-1.8 -1.2l-1.2 -1.6l-2.8 -0.4l-1.8 1.8l-1.9 1l-2.6 1.6M221.9 353.9l0.5 2.4l1 0.2l1.2 -1.6l-0.4 -2.4l0.4 -2l1.3 -1l0.8 -1.2l-1.6 -0.4l-1.7 0.6l-1.6 2.2l1.1 -0.6l-0.3 1.4l-0.7 2.4M227.2 348.3l2 1l0.3 1.6l-1 1.6l1.5 -0.6l0.6 0.2l0.4 1.8l1.1 -1l0 -2l0.7 -1.4l0.6 1l1.5 0.4l0.2 -1.4l-1.5 -1.4l-1.5 -0.4l-2.1 0l-1.7 -0.2l-1.1 0.8M229.3 356.5l1.2 0.4l1.6 0l2 -1l2.4 -1.4l0.2 -0.4l-1.8 0.6l-2.1 0l-2 1.2l-1 -0.2l-0.5 0.8M235.2 353.3l0.7 -0.6l2.3 -0.6l2.4 -0.6l0.5 1.4l-2.1 0.4l-2.5 0l-1.3 0M207.4 339.2l0.8 -2.2l-1.2 -1.6l-1.3 -2.5l-1.6 -0.4l0.5 1.9l2.1 3.6l0.7 1.2M202.9 337l-0.8 -2l-0.8 -1l0.8 2l0.8 1M204.9 339.4l-0.8 -1.4l-0.8 -1l0.9 1.8l0.7 0.6M174.2 318.2l3.3 -0.6l2.5 -1.4l4.1 -1.4l2.4 -0.2l-3.2 2l-2.5 1l-4.1 1l-2.5 -0.4M161.1 309.8l3.3 0.4l3.3 -1l4.9 -1l0.8 -1l-3.2 -0.9l-3.3 1.3l-3.3 0.2l-2.5 2M183.3 322.7l4.1 -0.8l4.9 -0.6l1.6 0.4l-4.9 0.6l-5.7 0.4M198 327.1l0.8 -2l0.9 -1l-0.9 2l-0.8 1M220.1 341l1.2 -1.4l0.5 1.4l-1.7 0M248.8 307.6l2.5 -0.9l0.8 0.9l-2.5 0.6l-0.8 -0.6M198 314.2l2.5 -0.8l0.8 0.8l-2.5 0.4l-0.8 -0.4M208.7 311.8l3.2 0l0.9 0.6l4.4 0.6M110.7 320.9l2.9 -0.4l-0.3 0.8l-2.6 -0.4M604.5 351.9l1.6 -1.2l2.5 -1.4l2.4 -1.2l1.7 -0.8M614.6 346.4l1.2 -1M616.8 344.4l0.6 -1M618.4 342.4l1.5 -1.4M620.5 339.8l1.3 -1.2M579.7 378.7l0.5 0.4M577.9 382.9l0.8 0.4M577.3 384.1l0.1 0.2M571.2 390l0.5 0.2M569.2 390.6l0.5 0.2M568.7 390.8l0.4 0.2M594.5 370.2l0 0.4M594.8 371.6l0 0.4M595.1 373.3l0 0.4M595.9 378.5l0 0.4M599 385.3l0 0.6M597.6 389.8l0 0.4M603.1 412.3l0.4 0.5M604.8 409.1l0.2 0.4M586.4 424l0.2 0.8M592.3 420.2l0.2 0.4M614.8 424.4l0.1 0.4M625.3 425.4l0.1 0.4M633.1 428.5l0.2 0.2M640.8 421.8l0.2 0.2M646.6 425l0.1 0.2M649.4 436.3l0.1 0.4M74.8 383.3l1 0M107.5 435.5l1 0M87.7 406.1l1 0M100 427.5l1 0M324.2 405.3l1 0M326.8 409.3l1 0M328.1 407.3l1 0M325.7 406.3l1 0M323.7 364.2l1 0M320.9 362.4l1 0M319.1 362.8l1 0M314.4 360.8l1 0M337.6 374.3l1 0M338.8 373.7l1 0M259.5 375.1l1 0M354 316.2l1 0M354.4 317l0.9 0M363.4 319.6l1 0M363.7 319l1 0M360.6 322.1l1 0M351.9 298.3l1 0M396.6 291.6l1 0M336.2 382.3l1 0M337.3 383.5l1 0M343.2 381.7l1 0M486 430.9l0.9 0M485.1 438.3l1 0M484.8 417.4l1 0M453.7 414.4l1 0M264.7 407.1l1 0M265.5 410.3l1 0M268 413l1 0M264.4 415.2l1 0M262.3 403.5l0.9 0M259.3 402.9l1 0M253.6 415l1 0M252.4 415l1 0M250.8 414.4l1 0M232.4 400.9l1 0M223.1 398.8l1 0M185.4 401.9l1 0M171.6 381.7l1 0M176.7 383.3l1 0M191 396.6l0.9 0M585.9 371.2l1 0M577.4 371l1 0M576.3 369.8l1 0M572.5 371.4l1 0M565.8 379.3l1 0M561.4 388.6l0.9 0M552.8 395.4l1 0M549.1 396.2l0.9 0M544.3 397.6l1 0M541.4 397.8l0.9 0M536 419l0.9 0M535.8 420.8l1 0M540.2 422l1 0M529.2 420.4l1 0M528.9 426.5l1 0M526.6 423.8l1 0M526 418.4l0.9 0M519.4 423l1 0M518.7 421l1 0M517.1 418l1 0M568.6 391.2l0.9 0M564.6 394.4l1 0M565.3 398.8l1 0M565.1 400.9l1 0M461.9 348.9l1.6 -2.2l2.5 -0.1l1.3 1.7l-1.3 2.6l-2 2l-1.8 -0.4l-0.7 -1.6l0.4 -2z"/>
<path id="bordT" d="M96.4 331.1l-3.3 1.4l-3.3 1.1l-3.2 1l-3.3 0.8l-3.3 0.4l-3.3 0.6l-2.4 0.2l-3.3 0.4M648.7 334.2l1.6 0.4M656.4 336l2.1 0.8l2.5 0.2"/>
<path id="water" d="M443.8 349.9l1.7 -3.2l2.3 -1.3l2.6 0l2.6 0.6l0 2.5l-3.3 1.4l-0.8 1.2l-1.1 1.4l0.5 1.8l0.8 2l2.1 2l1.2 1.9l1 2l-0.4 2l-1.9 1.4l-2.3 -0.6l-1 -1.4l-1 -2.4l-0.3 -2.1l-1.2 -2.8l-0.8 -2.6l-1 -1.8l0.3 -2zM413.5 357.5l-1.6 -0.8l0 -1.8l-0.2 -1.4l1.2 -1l0.1 -1l1.5 -2l1 -1.6l1 -1l1.6 -0.2l1.2 1l1.6 0l-1.6 1.4l1.4 1.8l1.3 0.2l2 -1.2l1.8 -0.8l-1.9 -1.8l-0.5 0.2l2.4 -0.9l1.7 -0.8l2.7 -0.2l-1.4 1.1l-1 0.8l0.8 0.6l-1.3 1l-0.7 0.4l0.9 1l1.6 0.8l2 1.6l2.1 1.4l1 2.2l-1 1l-1.6 0.4l-1.7 -0.2l-1.6 0.4l-1.7 -0.6l-1.1 -0.2l-2 -1.4l-2.6 0l-1.6 0.4l-1.7 1l-2.1 0.2l-2 0z"/>
<path id="tex" d="M174 296h8M170 297h8M220 290h6M223 280h3M250 300h6M220 281h4M190 283h5M190 284h5M218 277h3M224 308h5M157 294h6M157 295h6M217 293h4M198 290h4M198 291h4M173 293h3M218 284h7M222 278h7M254 309h4M172 301h7M172 302h7M257 312h7M257 313h7M207 296h8M168 294h8M223 285h4M164 291h4M164 292h4M174 289h7M235 296h4M195 287h3M195 288h3M223 294h8M206 289h3M235 304h5M229 313h6M160 295h3M196 299h7M196 300h7M184 291h5M234 299h6M212 287h3M227 293h4M254 312h6M254 313h6M172 288h3M174 293h5M224 287h3M224 288h3M185 289h8M222 293h8M226 289h3M178 294h4M238 297h3M238 298h3M184 288h8M198 293h4M206 302h4M206 303h4M256 278h4M164 292h7M236 292h7M236 293h7M233 301h7M227 316h7M227 317h7M177 297h7M177 298h7M198 297h3M215 295h8M215 296h8M254 309h6M254 310h6M206 278h6M256 314h7M177 300h5M177 301h5M240 274h4M240 275h4M233 284h6M233 285h6M177 297h6M177 298h6M223 310h7M223 311h7M177 301h8M177 302h8M178 297h7M235 284h3M224 309h3M224 310h3M229 314h5M229 315h5M214 296h7M185 303h7M185 304h7M206 296h6M206 297h6M197 301h3M250 309h8M253 315h7M254 306h4M163 288h6M163 289h6M253 275h5M226 288h8M212 295h4M235 284h6M239 302h3M239 303h3M214 295h7M242 276h7M202 295h5M220 289h5M161 287h6M161 288h6M203 294h4M203 295h4M231 275h6M212 278h6M212 279h6M244 279h5M251 308h7M184 300h8M255 312h3M194 288h6M247 276h3M245 310h4M246 299h5M203 289h3M190 297h6M227 276h5M228 287h3M202 299h8M188 287h6M235 296h3M195 289h6M196 290h4M216 281h6M227 309h3M193 285h3M226 284h4M205 288h5M208 297h8M208 298h8M221 275h8M172 301h8M172 302h8M163 287h3M255 307h3M255 274h3M255 275h3M194 299h7M220 283h4M200 283h3M197 296h6M241 276h3M249 312h5M233 300h3M238 280h6M218 281h3M248 309h2M222 296h5M161 291h5M229 278h5M170 293h5M248 310h3M173 301h6M257 306h6M245 278h3M163 294h2M230 294h5M234 300h4M240 302h6M216 283h4M245 300h3M181 300h6M232 316h6M172 294h5M245 299h2M237 310h5M162 296h2M176 296h4M257 276h2M210 278h4M245 310h5M168 282h4M194 294h4M194 286h4M164 282h5M198 282h3M204 283h5M159 284h4M172 287h5M192 286h3M184 295h2M175 294h2M184 293h4M215 295h5M169 291h4M178 291h4M207 284h4M174 284h3M202 281h4M175 283h2M161 287h5M198 280h4M228 291h3M221 282h5M195 292h3M209 284h3M250 306h3M244 307h5M251 313h2M251 314h2M258 306h6M251 307h2M245 305h4M240 301h3M240 302h3M248 313h5M248 314h5M236 300h3M252 307h3M252 308h3M238 310h2M238 311h2M261 309h6M261 310h6M248 313h6M234 297h6M237 301h6M234 293h4M223 298h5M248 297h2M251 314h2M255 303h5M254 304h2M245 304h3M245 305h3M249 298h5M222 296h4M236 295h6M226 299h4M252 304h2M248 315h3M232 294h4M232 295h4M237 301h2M253 300h3M252 314h3M227 301h6M227 302h6M251 314h2M251 315h2M243 298h3M234 300h4M234 301h4M218 292h6M235 298h5M216 295h6M216 296h6M240 303h2M240 304h2M225 297h3M225 298h3M234 297h5M255 314h4M255 315h4M221 292h3M244 304h6M244 305h6M234 301h6M247 300h3M252 314h2M256 304h5M256 305h5M245 302h5M245 303h5M254 301h4M263 308h3M256 312h3M256 313h3M246 299h3M238 309h3M238 310h3M228 298h5M255 302h2M258 308h3M244 311h6M249 305h3M256 305h4M237 295h2M237 296h2M242 298h5M242 299h5M234 298h2M234 299h2M232 295h3M241 297h6M245 298h4M256 310h3M262 305h2M262 306h2M227 297h5M255 312h2M222 299h4M246 303h4M246 304h4M252 305h3M252 306h3M220 295h4M220 296h4M217 294h6M223 293h6M223 294h6M235 309h3M254 305h2M254 306h2M247 301h2M247 302h2M256 307h6M250 310h5M236 301h3M248 319h1M248 331h3M248 332h3M249 324h1M237 331h4M237 332h4M240 330h2M258 323h3M258 324h3M260 327h3M245 318h1M240 319h2M240 320h2M250 328h4M263 328h2M263 329h2M261 329h1M253 324h3M243 325h3M240 318h2M240 319h2M242 319h3M245 318h1M243 322h2M243 323h2M241 321h4M241 322h4M238 317h1M259 326h4M259 327h4M248 318h4M246 319h4M243 326h1M241 322h2M243 316h1M237 330h1M252 326h1M239 316h2M244 326h1M263 331h4M241 324h1M246 326h2M252 323h2M255 328h3M238 321h3M245 324h1M237 332h1M237 333h1M241 326h3M241 327h3M241 322h1M237 330h5M237 331h5M237 320h2M239 315h5M237 320h2M237 321h2M257 321h2M257 322h2M258 322h4M235 333h4M235 329h2M235 316h4M234 332h3M234 329h5M236 329h5M256 322h2M236 328h3M244 314h3M254 323h5M251 323h5M234 330h5M234 331h5M234 317h5M236 320h3M236 321h3M251 320h3M244 317h3M255 321h4M237 321h3M240 316h5M240 317h5M234 329h3M241 315h4M250 323h4M263 328h4M235 314h3M238 324h4M236 316h3M236 317h3M205 296h3M199 306h4M199 307h4M182 304h3M157 301h2M157 302h2M207 305h4M207 306h4M208 306h3M196 305h4M206 296h2M206 297h2M157 299h5M205 304h3M205 305h3M179 305h2M207 322h3M207 323h3M163 299h3M206 304h4M162 298h5M204 303h5M204 304h5M206 302h2M186 306h2M186 307h2M180 303h4M178 303h3M171 301h2M162 302h4M171 299h4M176 304h2M160 298h5M168 299h4M206 304h2M196 304h4M196 305h4M208 296h2M177 306h3M186 306h2M157 298h4M205 300h4M194 306h3M187 303h2M159 302h3M177 303h2M178 305h5M158 301h3M206 304h5M206 305h5M207 300h5M207 301h5M199 306h4M205 302h4M189 303h5M173 300h4M173 301h4M182 306h5M182 307h5M205 301h3M205 302h3M156 300h2M192 304h3M186 303h4M186 304h4M164 302h3M173 305h3M164 299h3M143 302h3M146 302h4M142 301h4M144 302h2M141 301h4M218 325h5M261 324h2M261 325h2M210 304h4M208 299h5M266 326h2M218 310h3M220 310h4M209 320h3M222 305h3M255 320h3M255 321h3M210 322h3M259 317h4M260 320h4M210 314h5M231 327h2M246 316h5M216 303h2M216 304h2M227 299h3M227 300h3M209 317h3M239 328h3M239 329h3M234 324h5M252 320h2M218 310h5M218 311h5M217 313h5M226 329h2M226 330h2M255 323h2M255 324h2M199 326h1M238 315h3M238 316h3M200 311h1M209 333h2M209 334h2M264 329h3M228 337h3M197 310h2M210 322h1M197 326h1M197 327h1M206 327h1M196 316h3M172 302h1M212 336h2M212 337h2M239 330h3M186 331h1M186 332h1M211 333h3M214 332h3M214 333h3M215 333h1M215 334h1M181 323h1M181 324h1M204 305h3M203 306h3M206 317h3M253 327h2M253 328h2M245 325h2M245 326h2M213 333h2M176 307h3M180 337h3M180 338h3M259 320h2M182 328h3M182 329h3M185 317h3M185 318h3M185 326h2M172 334h2M172 335h2M186 306h3M203 309h1M203 310h1M176 328h2M257 331h1M211 330h1M187 319h1M240 335h1M193 333h3M188 329h1M211 327h3M211 328h3M178 320h1M178 321h1M249 320h3M190 305h1M228 307h3M157 335h3M166 316h1M154 316h2M150 317h3M166 325h2M161 310h2M261 331h1M263 330h1M257 329h1M244 329h2M260 335h3M257 326h2M257 327h2M246 321h1M246 322h1M247 329h3M247 330h3M246 326h2M261 336h1M261 337h1M258 321h1M238 331h3M251 337h1M252 329h3M237 330h4M254 337h4M254 338h4M160 310h4M166 308h4M162 307h5M160 310h2M167 309h3M165 306h5M178 317h5M173 317h5M181 316h5M180 314h5M174 318h2M191 321h3M185 321h3M190 320h5M207 336h2M203 335h4M202 334h5M203 335h5M196 325h5M196 325h5M199 335h5M201 336h2M202 338h2M247 308h5M247 306h5M198 314h5M200 314h2M221 347h2M221 348h2M223 344h3M224 344h2M224 345h2M223 347h2M219 344h1M223 341h2M226 347h1M220 342h2M221 347h3M216 344h3M217 345h1M217 346h1M216 346h1M213 347h3M213 348h3M226 347h3M225 346h3M223 346h1M223 347h1M216 347h1M219 354h3M222 354h3M223 347h1M223 356h1M223 349h1M223 350h1M224 348h1M224 348h2M222 350h1M223 347h2M223 353h3M220 353h2M219 350h2M219 351h2M224 350h1M226 349h2M228 347h3M227 346h2M231 349h3M232 349h2M230 353h3M229 348h1M231 351h1M228 353h3M228 353h1M232 350h3M231 349h3M231 350h3M230 353h2M228 347h2M226 347h1M230 354h2M230 355h2M234 353h3M230 357h2M229 355h2M229 356h2M228 356h1M232 355h1M231 357h1M231 358h1M235 353h2M235 354h2M239 351h2M240 351h1M240 352h1M236 353h1M236 351h2M239 351h1M239 352h1M240 351h1M219 350h3M219 351h3M239 350h3M241 342h3M227 351h1M227 352h1M210 349h3M222 351h1M222 352h1M211 347h3M241 347h3M213 345h1M212 350h3M238 349h3M215 344h1M223 345h1M223 346h1M222 350h2M238 351h2M226 351h3M213 346h1M241 349h2M233 350h2M235 351h1M221 341h2M211 346h3M154 336h2M154 337h2M140 325h3M145 326h2M148 329h3M142 322h3M142 323h3M163 340h3M148 331h4M154 334h3M161 343h4M161 344h4M154 337h4M153 337h5M152 333h4M155 334h3M155 335h3M148 331h3M158 341h3M154 336h4M155 337h5M157 338h5M148 325h3M148 326h3M150 334h5M146 325h3M146 326h3M155 336h3M155 337h3M146 327h5M145 324h3M145 325h3M151 333h3M151 334h3M139 322h4M160 341h2M148 327h5M152 333h4M145 324h2M145 325h2M157 339h5M159 339h3M151 331h5M160 339h3M150 329h3M150 330h3M149 327h4M152 335h3M158 337h3M153 336h5M157 340h3M148 329h4M148 330h4M146 325h3M161 343h5M161 344h5M139 323h4M139 324h4M157 337h2M156 339h3M153 337h3M153 338h3M150 333h2M164 344h4M148 330h5M148 331h5M152 331h3M163 341h5M146 325h3M141 324h5M157 340h2M157 341h2M158 341h5M157 339h4M157 340h4M146 324h2M150 333h4M156 335h2M150 330h3M151 330h4M148 327h3M148 328h3M142 323h5M152 330h2M152 331h2M149 328h2M164 344h2M141 323h2M147 324h2M155 334h3M141 323h5M143 325h4M161 340h3M151 335h5M149 328h2M142 324h3M150 328h2M150 329h2M158 337h2M146 325h4M146 326h4M146 325h5M163 343h3M163 344h3M156 336h2M141 325h4M152 333h3M153 335h2M149 329h3M137 322h3M133 318h3M118 320h2M137 322h5M116 319h5M116 320h5M136 323h2M125 317h2M125 318h2M138 321h5M123 319h4M123 320h4M113 320h5M120 320h4M120 321h4M126 319h4M126 320h4M113 320h5M113 321h5M120 319h3M112 321h5M123 320h2M130 320h2M130 321h2M126 319h3M126 320h3M116 319h4M116 320h4M141 321h3M124 318h4M142 323h3M142 324h3M138 322h4M129 321h2M124 319h2M101 330h4M109 325h4M104 328h2M105 326h3M105 327h3M104 328h5M103 328h3M110 324h5M111 322h5M107 325h2M114 321h3M109 325h3M114 321h3M101 327h2M101 328h2M100 329h3M104 326h5M114 322h5M112 323h5M112 324h5M105 326h4M112 323h4M112 324h4M113 323h4M110 325h4M104 327h2M101 327h2M101 328h2M114 322h3M114 323h3M103 328h5M112 324h4M105 326h5M68 337h3M88 333h2M82 335h4M70 337h3M86 335h2M651 335h3M652 335h2M655 337h2M650 336h3M94 308h4M98 306h4M93 308h2M92 307h5M93 308h2M92 309h3M95 318h3M96 319h5M103 323h4M106 322h4M94 318h2M99 321h5M97 318h4M91 318h4M106 322h4M105 321h4M93 319h5M95 317h4M94 319h2M100 320h3M280 312h5M271 288h2M271 289h2M275 297h3M272 294h5M280 313h5M277 298h4M277 299h4M271 290h2M283 315h3M283 316h3M278 306h3M278 307h3M279 302h2M278 301h4M279 313h5M283 316h5M277 310h4M277 311h4M278 305h5M277 307h5M274 294h3M274 295h3M277 302h5M277 303h5M281 302h5M283 314h4M277 298h5M277 299h5M284 315h2M284 316h2M279 311h5M279 312h5M270 288h3M277 303h6M282 299h3M280 310h5M280 311h5M283 312h3M270 290h6M271 291h6M277 310h6M270 288h3M283 301h2M280 309h5M280 302h3M282 302h2M282 303h2M275 305h5M275 306h5M278 305h4M272 291h2M283 315h6M279 308h3M271 292h5M275 297h4M275 298h4M282 314h3M282 315h3M273 296h4M271 293h4M280 314h6M280 315h6M273 296h5M273 297h5M277 308h4M278 310h6M282 313h6M282 314h6M273 296h5M273 297h5M274 298h5M279 298h5M278 303h2M270 289h3M270 290h3M277 310h6M281 314h3M280 312h3M280 313h3M274 293h3M274 294h3M274 297h4M271 291h4M275 294h3M274 299h5M278 304h3M286 314h2M268 288h6M274 293h3M278 309h2M278 301h3M280 301h6M279 309h4M274 298h4M281 313h6M283 313h3M272 294h6M276 305h3M276 306h3M276 296h4M276 297h4M275 300h5M275 294h2M275 295h2M277 303h4M269 287h3M278 307h2M315 304h4M305 308h3M299 307h4M324 299h2M306 306h4M322 300h4M294 314h4M297 311h1M313 304h2M322 299h2M298 309h3M310 303h1M293 316h2M289 316h1M294 317h1M301 309h4M299 310h3M298 308h4M296 314h2M295 317h1M293 318h1M310 304h1M313 303h4M322 303h2M309 307h3M330 281h3M326 295h2M335 281h3M334 281h5M335 280h3M330 281h4M330 282h4M331 281h5M332 281h4M332 282h4M327 294h3M335 279h3M330 277h7M330 278h7M329 285h7M328 291h5M328 292h5M327 276h7M327 277h7M324 278h7M327 291h2M327 292h2M323 294h2M339 279h4M325 291h7M325 292h7M324 279h3M330 281h6M330 288h4M330 289h4M320 279h7M330 286h6M323 278h2M337 279h5M337 280h5M330 285h5M333 278h6M339 279h5M324 277h7M324 278h7M327 293h4M343 277h5M323 296h2M323 297h2M332 285h4M336 280h4M329 291h2M329 292h2M328 294h2M332 277h5M324 293h3M339 279h7M339 280h7M331 289h4M334 281h2M322 295h7M322 296h7M337 279h5M341 277h3M331 287h6M323 276h6M323 277h6M328 290h4M333 277h4M333 278h4M327 278h7M326 276h7M328 278h6M320 276h4M328 289h6M320 278h5M320 279h5M334 282h4M327 296h5M334 285h2M331 278h7M341 279h2M332 285h2M297 273h6M337 279h3M322 277h5M267 278h7M264 277h7M301 274h6M263 276h3M323 277h7M272 277h6M308 274h9M297 275h7M255 277h7M278 275h9M266 278h9M274 278h6M286 274h9M290 273h5M277 277h8M300 273h8M284 277h8M287 277h8M292 277h4M340 276h5M260 276h8M283 277h6M320 277h8M265 277h9M269 277h4M277 276h3M315 276h5M336 277h7M313 276h6M325 278h7M265 278h8M321 273h6M309 274h9M312 273h6M305 273h5M281 274h7M340 276h5M266 276h4M328 278h4M275 277h5M252 282h3M253 282h4M250 286h6M252 284h2M245 284h3M267 289h4M261 286h4M253 281h5M256 288h5M247 282h6M250 286h3M249 285h2M252 282h6M251 285h6M259 280h4M257 278h5M248 282h4M249 284h3M266 287h3M262 279h3M258 286h3M254 282h5M337 313h4M324 309h3M339 311h4M329 307h4M337 306h4M338 313h4M331 308h2M325 311h3M342 309h4M334 308h3M325 311h2M338 312h4M336 307h2M326 310h4M391 284h4M391 285h4M391 280h2M391 281h2M392 285h5M390 287h4M390 288h4M387 281h7M387 282h7M390 285h3M390 286h3M391 285h4M393 280h2M406 281h2M401 279h4M404 281h7M404 282h7M393 280h5M451 296h3M449 297h2M453 294h3M453 295h3M453 295h5M455 293h5M468 288h2M463 288h3M463 289h3M471 285h7M455 289h7M454 292h7M459 279h7M454 279h3M456 277h7M456 278h7M461 277h4M460 278h4M460 279h4M531 282h3M527 283h7M533 281h3M534 281h6M521 280h2M521 281h2M518 281h6M521 279h7M596 290h3M590 288h4M594 290h5M596 289h2M601 287h6M392 316h3M400 300h5M378 313h4M396 302h3M393 304h2M401 310h2M400 307h4M403 308h4M403 309h4M412 301h3M412 302h3M395 300h5M393 300h2M393 301h2M394 299h2M381 313h5M376 312h3M376 313h3M375 316h3M375 317h3M403 309h5M403 310h5M397 301h4M390 305h2M379 313h4M395 300h5M383 308h5M381 312h4M407 299h5M377 312h4M373 323h4M371 321h5M398 308h5M375 321h4M386 307h3M386 308h3M388 307h2M388 308h2M393 314h3M380 312h3M380 313h3M397 313h4M397 314h4M377 311h5M377 312h5M403 312h3M403 313h3M389 305h5M378 323h5M387 304h3M397 314h2M397 315h2M374 321h2M397 301h5M401 299h5M372 319h2M382 309h3M397 302h3M397 303h3M403 310h5M401 298h4M382 310h2M402 311h2M412 299h5M401 297h5M401 298h5M412 300h3M373 315h3M373 316h3M382 313h4M411 300h3M371 323h5M371 324h5M404 298h5M373 324h3M394 313h3M394 314h3M394 313h4M373 322h3M382 308h3M382 309h3M404 308h5M381 311h3M401 314h3M393 313h4M387 305h4M381 311h5M372 314h2M372 315h2M405 309h5M414 302h2M412 297h5M375 312h4M375 313h4M396 312h3M393 302h2M393 303h2M375 314h3M374 322h3M374 323h3M414 302h2M392 304h4M373 323h4M400 308h4M381 312h4M381 313h4M372 318h4M406 297h5M406 298h5M406 308h3M405 298h5M397 308h5M371 314h5M407 310h2M402 314h3M408 297h5M408 298h5M385 308h3M382 309h5M399 312h2M399 313h2M407 312h4M401 314h4M413 309h3M413 310h3M413 311h1M413 312h1M413 317h4M407 314h1M402 317h1M402 318h1M406 319h1M409 310h1M409 311h1M418 316h3M418 317h3M413 310h2M409 313h1M403 318h4M415 316h2M417 315h3M409 314h4M409 315h4M417 316h3M417 311h3M417 312h3M415 311h3M415 312h3M406 313h4M406 314h4M409 318h1M409 317h1M409 318h1M411 313h1M411 314h1M413 318h1M413 319h1M414 314h3M404 316h1M404 317h1M406 315h1M405 312h3M411 311h2M408 309h1M417 312h2M405 312h2M415 313h3M403 315h4M407 318h1M402 317h4M410 313h2M411 318h4M411 319h4M417 309h1M417 310h1M409 317h3M404 316h3M408 310h4M410 315h1M392 318h1M384 321h3M390 322h2M387 324h2M390 320h2M391 318h3M387 324h1M392 321h3M390 319h2M385 322h3M389 321h1M391 322h3M392 320h1M390 332h2M389 326h1M396 332h4M406 324h2M406 325h2M402 321h4M394 318h4M397 325h4M391 325h4M391 326h4M381 327h4M390 332h1M380 320h3M390 326h1M382 320h2M384 324h3M402 325h1M401 330h1M405 327h1M388 331h4M388 332h4M394 321h4M388 332h2M388 333h2M404 322h2M407 320h4M404 322h4M381 324h2M396 330h2M393 329h2M394 321h3M386 326h3M377 321h4M399 329h3M379 328h2M379 329h2M383 331h1M383 332h1M379 323h3M385 330h2M385 331h2M382 330h4M382 324h4M397 330h1M386 331h1M386 332h1M408 318h4M408 319h4M403 323h3M403 327h2M381 321h4M381 322h4M404 320h2M396 322h2M379 326h1M408 318h2M391 326h3M426 309h3M419 307h3M419 308h3M423 309h5M428 311h5M428 312h5M429 310h5M430 305h3M433 305h2M437 308h2M437 309h2M424 313h4M424 314h4M425 304h4M437 304h2M433 308h5M433 309h5M428 304h3M423 310h4M423 309h4M420 308h2M428 309h2M428 310h2M435 308h4M435 309h4M423 301h4M423 302h4M418 301h2M426 302h3M426 303h3M428 305h3M428 306h3M429 304h5M434 306h3M434 307h3M419 305h4M419 306h4M424 307h4M434 307h2M434 308h2M415 302h4M415 303h4M437 305h2M361 325h1M358 323h3M357 330h2M363 329h1M357 324h2M357 322h2M356 322h2M356 323h2M359 325h3M355 326h3M355 324h4M361 329h3M360 327h1M360 328h1M356 325h2M359 325h2M359 326h2M362 325h2M359 322h3M359 323h3M357 328h2M357 329h2M359 324h1M354 325h3M355 326h3M356 322h3M354 327h4M360 329h3M354 327h2M358 321h4M348 334h2M348 335h2M355 332h4M355 333h4M352 336h3M350 329h4M350 330h4M349 332h1M354 331h4M355 334h3M355 335h3M347 335h4M347 336h4M349 334h1M356 335h1M349 335h2M355 332h3M354 333h3M358 325h3M361 337h3M358 338h2M355 324h3M363 338h3M360 330h1M363 337h1M359 330h1M357 335h1M357 337h3M359 334h1M360 330h2M359 332h2M655 302h2M511 290h4M484 296h4M513 287h7M513 288h7M589 294h4M457 303h3M457 304h3M509 288h5M509 289h5M504 291h2M568 295h6M455 301h2M455 302h2M467 300h5M634 299h3M634 300h3M541 288h3M504 291h2M591 293h7M649 302h2M534 286h5M632 301h7M632 302h7M485 294h3M485 295h3M470 300h3M612 297h5M612 298h5M652 301h5M467 300h5M473 299h5M473 300h5M497 291h6M476 301h5M476 302h5M484 303h3M607 297h4M617 298h3M520 287h3M520 288h3M599 295h2M574 294h2M476 293h6M547 287h4M547 288h4M470 303h5M541 291h5M454 304h2M574 295h2M509 289h7M509 290h7M542 293h5M454 304h2M454 305h2M563 291h7M600 295h4M651 301h3M651 302h3M529 287h6M579 298h6M645 302h7M556 293h3M556 294h3M548 293h4M524 286h6M472 299h3M472 300h3M583 296h2M655 301h3M529 288h5M529 289h5M525 287h5M465 299h6M572 295h5M538 286h3M517 286h5M517 287h5M613 296h6M603 294h6M514 290h7M474 298h4M624 302h5M586 296h4M536 287h5M536 288h5M550 293h2M479 293h2M475 293h6M475 294h6M480 297h6M560 292h6M622 299h4M596 296h6M596 297h6M530 286h5M491 296h7M541 291h6M541 292h6M497 293h3M567 292h3M536 285h6M536 286h6M557 292h4M557 293h4M482 298h6M482 299h6M528 287h2M528 288h2M645 300h2M647 300h3M566 294h5M448 304h3M487 294h5M572 292h4M500 293h4M501 291h3M501 292h3M557 292h3M491 295h7M491 296h7M561 294h7M518 289h7M475 299h2M645 298h7M645 299h7M482 295h7M482 296h7M603 297h2M647 301h4M597 294h4M633 299h7M628 300h6M480 299h3M613 299h5M646 300h6M646 301h6M468 303h6M480 293h6M480 294h6M560 293h7M560 294h7M453 302h5M549 289h2M549 290h2M465 301h5M465 302h5M538 284h4M505 294h3M505 295h3M551 290h3M573 295h6M604 297h6M487 297h5M574 296h7M614 299h3M614 300h3M662 304h2M667 304h3M671 306h5M666 305h4M666 303h2M655 310h5M655 311h5M591 333h5M634 315h3M624 337h1M620 330h5M620 331h5M596 321h5M596 322h5M592 332h5M629 315h1M630 317h2M630 318h2M593 325h1M628 319h5M655 311h2M622 325h4M587 329h1M595 335h5M623 325h2M591 332h2M627 332h2M643 320h1M613 322h3M613 323h3M626 334h4M602 323h2M602 324h2M626 333h3M630 327h2M622 338h4M653 315h3M619 338h4M589 330h3M619 328h1M591 332h5M591 333h5M612 320h4M642 321h4M622 314h3M622 315h3M601 322h4M601 323h4M638 319h4M658 316h5M622 316h1M622 317h1M641 319h2M651 315h5M653 313h3M625 317h1M609 322h1M609 323h1M624 331h4M621 333h2M642 319h2M630 320h2M629 320h2M637 321h1M629 323h5M629 324h5M631 317h2M622 339h2M622 340h2M592 326h1M627 324h5M596 332h5M629 321h2M630 330h2M655 313h4M630 332h1M617 323h3M636 318h2M593 337h5M593 338h5M657 316h2M648 318h1M598 321h1M591 326h5M591 327h5M628 318h4M617 331h5M617 335h5M595 334h1M595 335h1M647 317h1M647 318h1M648 315h3M599 320h4M599 321h4M598 344h1M597 341h2M599 336h3M598 346h3M597 345h3M600 339h2M598 346h2M596 345h2M596 346h2M600 342h3M600 343h3M598 331h2M598 332h2M600 333h2M596 336h3M600 346h2M600 347h2M580 372h2M596 356h3M582 368h1M582 369h1M596 365h1M597 359h2M581 369h1M587 372h1M587 373h1M582 370h2M594 359h2M583 368h2M596 359h3M596 360h3M584 369h1M595 363h3M581 369h2M581 370h2M590 364h3M578 373h3M580 371h2M579 378h2M579 379h2M579 375h2M579 376h2M582 371h1M582 374h3M585 372h3M595 356h2M599 354h3M596 356h1M596 351h2M600 355h3M594 352h1M594 353h1M594 357h1M594 358h1M595 352h2M575 361h1M575 362h1M577 366h1M570 362h2M573 363h1M574 364h2M576 364h1M576 363h2M575 368h2M572 368h1M570 364h1M577 363h2M574 363h3M574 364h3M576 363h2M572 362h3M572 363h3M577 364h1M575 369h3M575 370h3M538 398h1M538 399h1M545 395h3M564 383h1M564 384h1M556 391h1M562 375h3M562 376h3M543 394h1M543 395h1M563 367h1M550 394h2M563 359h3M564 363h2M559 385h3M559 386h3M541 395h1M541 397h1M541 398h1M560 387h1M560 388h1M560 366h3M540 396h3M553 393h3M565 376h3M558 361h3M550 396h3M565 383h3M564 377h3M553 392h1M548 396h1M562 361h2M564 365h2M547 395h2M561 378h3M561 379h3M566 379h2M560 366h1M562 377h1M565 358h3M272 345h2M272 346h2M271 339h3M267 344h6M270 339h6M272 338h2M277 342h2M278 343h2M278 344h2M269 344h3M271 337h5M250 351h2M250 352h2M249 352h2M252 340h4M273 332h1M252 350h4M252 351h4M274 336h3M274 337h3M268 338h1M259 346h1M256 349h2M249 346h2M249 347h2M252 341h2M253 339h4M271 330h1M264 348h4M257 349h4M257 350h4M248 342h4M248 343h4M254 343h4M261 347h3M274 332h1M260 348h4M256 350h2M256 351h2M268 331h3M260 338h1M257 351h2M255 350h4M252 344h1M268 330h2M248 353h1M248 344h2M248 354h1M246 357h1M249 353h3M250 357h2M250 358h2M244 359h1M243 359h1M247 356h2M242 361h1M249 352h3M244 358h3M248 354h3M248 354h2M244 357h3M243 360h1M216 325h3M216 326h3M239 330h1M212 325h2M221 326h1M223 309h1M245 317h4M245 318h4M216 325h1M233 331h3M259 320h1M211 315h2M217 325h4M231 330h1M217 313h1M222 312h1M236 394h3M237 398h1M232 394h2M240 399h1M234 394h3M230 393h3M224 395h4M227 394h1M241 397h4M231 395h2M238 395h2M238 396h2M226 394h2M251 402h3M247 404h3M250 401h3M250 400h3M250 401h3M244 400h1M243 400h4M236 402h3M239 402h4M239 403h4M255 402h4M253 402h3M253 403h3M239 388h2M236 390h3M236 391h3M243 391h2M238 388h3M241 390h1M241 391h1M238 386h3M245 393h1M245 394h1M243 392h1M243 393h1M245 393h2M258 402h1M264 412h1M264 413h1M260 404h1M264 408h2M265 413h2M261 404h1M261 405h1M217 412h3M217 413h3M236 423h2M213 402h3M227 414h3M216 411h3M216 412h3M212 403h3M215 412h3M215 413h3M225 419h1M227 415h3M219 406h2M226 408h1M224 408h1M217 411h3M226 419h3M213 408h1M213 409h1M227 423h2M218 407h2M224 408h3M229 419h2M213 402h3M228 413h1M228 414h1M221 402h1M221 403h1M214 411h3M224 417h1M232 421h3M232 422h3M225 407h3M222 415h2M214 411h1M213 410h1M213 411h1M235 422h2M220 406h1M220 407h1M238 422h1M177 378h1M179 383h2M186 390h3M180 387h3M177 377h3M190 392h2M178 385h1M192 394h1M188 390h1M178 382h3M184 384h2M176 376h1M181 386h3M181 387h3M185 386h2M180 382h1M175 382h3M179 381h1M179 382h1M178 382h3M179 385h3M179 386h3M191 392h2M183 387h1M181 381h3M567 411h3M567 411h1M567 412h1M564 404h1M564 405h1M563 409h4M561 409h2M561 410h2M566 410h3M561 405h4M565 413h4M562 404h1M563 409h1M563 410h1M564 410h3M566 402h2M566 403h2M565 411h3M571 424h4M571 426h2M567 425h4M567 426h4M570 423h2M569 422h1M572 419h1M568 423h3M568 424h3M567 424h2M567 424h3M573 423h1M568 421h1M570 419h2M570 420h2M569 418h2M568 414h3M567 416h4M568 418h3M564 418h4M563 415h4M564 417h1M566 417h3M567 417h3M566 417h4M566 418h4M567 417h1M566 419h4M566 420h4M559 421h1M559 416h3M561 416h2M556 422h3M556 423h3M562 413h3M563 411h1M563 413h3M563 414h3M549 433h4M552 429h4M558 428h4M554 427h2M554 428h2M547 435h3M541 436h4M541 437h4M558 436h3M556 424h3M548 438h2M542 438h4M542 439h4M557 427h3M547 433h4M547 434h4M550 438h4M558 435h1M558 436h1M546 435h2M554 428h1M553 439h3M553 440h3M531 438h3M533 440h1M527 438h1M535 437h2M532 437h3M532 438h3M524 435h3M524 436h3M522 428h2M522 429h2M527 436h1M532 438h2M524 431h2M520 427h3M529 435h3M562 437h3M566 436h2M566 439h4M566 440h4M567 438h3M564 436h3M568 437h2M564 439h2M574 435h3M576 438h2M576 439h2M575 434h1M575 435h1M575 436h1M543 415h1M527 421h3M534 437h4M534 438h4M538 423h1M515 394h3M518 401h3M522 406h2M515 397h4M543 398h4M525 421h2M539 408h4M526 416h3M533 436h4M539 396h4M539 397h4M535 422h1M516 394h2M516 395h2M521 405h2M532 427h1M519 402h2M519 403h2M534 421h4M529 433h1M537 404h3M533 434h1M533 435h1M530 435h4M515 395h3M525 406h2M524 410h3M525 406h4M531 423h4M539 402h3M519 407h4M519 408h4M535 423h3M531 433h3M531 434h3M518 397h1M536 401h3M536 402h3M519 403h1M528 415h4M533 430h2M533 431h2M529 416h1M527 421h4M527 422h4M534 436h4M532 417h4M524 411h2M537 402h2M542 413h3M524 414h4M534 429h1M528 417h2M523 406h4M544 415h3M544 416h3M531 433h2M516 398h4M516 399h4M540 420h1M530 422h1M528 411h3M528 412h3M526 409h3M531 417h3M532 424h4M536 430h3M544 397h1M537 437h1M574 433h1M571 432h2M578 429h3M571 433h1M560 429h3M560 425h1M564 426h3M563 390h3M563 391h3M563 389h1M563 390h1M565 389h1M565 390h1M563 388h1M561 391h2M561 392h2M564 390h2M542 401h1M542 402h1M542 402h3M547 399h1M545 399h3M545 401h2M496 420h2M495 420h1M497 420h2M497 426h1M497 427h1M497 426h1M494 422h3M499 381h1M502 382h4M518 385h4M495 381h1M502 384h3M502 385h3M521 383h2M521 384h2M522 383h4M522 384h4M520 383h1M519 384h1M509 384h3M499 381h4M495 379h1M510 386h3M510 387h3M501 383h3M501 384h3M506 384h1M506 385h1M498 380h3M498 381h3M514 386h2M519 384h3M519 385h3M507 385h4M516 387h1M498 381h3M521 384h2M521 385h2M508 386h3M517 385h3M516 389h3M516 390h3M513 393h4M509 387h2M509 388h2M515 390h1M515 391h1M510 395h1M510 396h1M514 391h3M512 392h2M509 392h4M511 390h1M509 393h3M516 393h1M516 392h4M516 393h4M513 390h4M508 389h4M513 393h3M510 395h3M509 393h1M511 391h2M515 392h4M511 388h4M511 391h2M516 392h1M397 361h3M405 359h1M405 360h1M401 360h1M403 358h2M400 367h3M400 368h3M404 362h2M399 362h1M410 367h2M408 365h2M406 358h3M401 369h3M400 364h1M407 356h3M405 367h3M403 365h1M411 361h1M405 361h1M397 362h2M400 365h2M400 366h2M401 360h1M404 365h1M404 366h1M408 368h2M407 361h2M407 362h2M399 363h1M408 358h2M402 361h3M410 366h3M400 363h2M400 364h2M409 360h2M409 361h2M403 369h3M399 357h2M399 358h2M409 365h2M404 368h3M404 369h3M398 366h2M405 359h2M399 367h2M407 357h3M404 357h2M401 367h2M405 360h3M404 362h1M404 363h1M401 367h3M401 368h3M404 367h2M404 368h2M389 360h2M385 352h3M385 353h3M386 358h2M386 359h2M387 354h1M390 355h2M390 356h2M388 352h1M387 351h1M389 357h2M397 357h1M396 354h2M396 355h2M395 357h1M397 355h2M397 356h2M388 350h2M392 357h3M392 358h3M392 355h2M386 349h2M397 359h3M397 360h3M361 370h3M375 352h1M398 357h2M398 358h2M365 364h1M413 367h2M413 368h2M391 353h1M401 357h3M384 350h1M365 358h1M365 359h1M354 373h1M372 352h1M372 353h1M369 364h1M369 365h1M397 358h3M397 359h3M390 360h3M390 361h3M362 351h1M422 377h3M422 378h3M384 368h1M392 356h1M369 354h2M378 366h2M352 367h1M352 368h1M417 375h2M417 376h2M390 377h1M390 378h1M361 366h1M386 351h1M419 377h1M401 360h2M422 377h3M422 378h3M352 354h3M378 352h3M389 349h2M361 366h1M407 360h3M407 361h3M418 366h3M418 367h3M390 359h1M390 360h1M401 364h2M389 360h1M360 352h3M360 353h3M380 352h2M381 365h2M383 352h3M399 373h2M398 376h3M409 360h2M362 360h3M411 360h1M411 361h1M381 355h3M380 350h1M394 353h1M383 324h1M383 325h1M380 330h1M381 330h3M386 325h1M384 325h2M383 327h2M383 328h2M383 329h2M383 330h2M381 330h2M381 331h2M378 325h3M378 326h1M378 327h1M386 330h2M383 326h1M380 328h1M454 393h1M432 404h2M458 387h3M458 388h3M442 413h3M442 414h3M455 385h3M455 386h3M424 403h3M444 381h2M446 388h2M425 391h3M461 400h2M422 391h1M432 414h3M421 383h3M457 404h3M457 405h3M457 384h1M457 385h1M459 387h3M448 410h1M448 411h1M454 386h2M454 387h2M455 405h3M455 406h3M459 386h1M459 387h1M457 383h1M457 384h1M452 404h1M452 405h1M462 387h2M446 381h1M433 414h1M419 378h2M419 379h2M458 384h1M453 391h3M453 392h3M427 394h3M442 411h3M442 412h3M460 395h3M458 386h1M342 423h3M342 424h3M347 425h1M336 407h3M350 428h2M339 407h2M339 408h2M339 415h3M339 407h3M353 429h1M353 430h1M345 422h1M345 423h1M351 430h2M344 423h2M341 422h1M337 416h3M349 430h1M349 431h1M338 417h3M338 418h3M342 419h3M338 407h1M338 417h3M338 418h3M336 410h3M343 422h2M343 423h2M347 426h2M347 427h2M342 419h1M342 420h1M354 428h3M358 428h1M375 429h1M380 430h2M374 431h1M362 427h3M365 429h3M372 428h3M353 431h2M356 427h3M361 430h2M379 437h2M378 440h2M378 441h2M378 439h3M517 330h2M466 370h2M584 349h2M534 361h3M424 361h2M589 325h2M562 371h1M436 348h1M452 314h1M488 317h2M472 359h1M452 337h1M527 322h2M594 303h1M544 371h2M523 345h3M529 371h3M437 349h2M555 316h2M456 324h2M559 331h2M564 307h2M581 314h2M453 349h1M535 311h3M473 332h3M584 341h2M468 313h3M530 367h3M578 316h2M515 366h2M489 360h3M485 308h1M574 354h2M483 360h3M539 383h2M463 377h3M565 359h2M429 304h3M529 312h3M579 333h3M438 373h3M564 379h1M517 355h2M533 377h2M512 359h1M583 340h3M519 304h2M493 367h3M509 383h2M520 304h1M589 309h3M473 309h3M548 342h1M539 349h3M501 300h2M534 368h1M529 359h3M570 313h1M454 366h3M464 345h1M528 353h3M518 316h1M493 364h1M516 380h1M449 341h2M458 354h2M526 314h2M457 370h2M548 362h2M558 321h1M538 309h3M556 329h2M544 362h2M591 301h1M460 318h2M513 325h1M513 358h2M522 310h2M505 346h2M474 321h2M512 349h3M494 318h3M443 325h1M533 344h3M550 347h3M513 349h1M504 380h2M580 305h1M443 306h3M438 326h1M482 353h1M501 320h3M509 365h1M359 410h1M388 411h1M439 434h1M362 397h2M443 389h1M382 413h1M417 398h2M365 403h2M363 407h1M388 414h2M403 389h1M345 422h2M410 397h2M362 411h2M174 356h1M230 366h1M191 361h1M182 341h1M215 349h1M185 369h2M189 355h1M246 351h2M199 357h1M213 349h1M162 355h1M190 352h1M175 340h2M193 355h1M236 354h1M230 383h1M170 356h1M234 347h2M228 347h2M188 356h2M208 344h2M194 375h1M433 343h2M439 342h1M437 341h3M441 338h1M441 337h3M441 336h1M443 332h3M444 333h3M445 329h2M455 325h3M458 323h2M458 324h2M427 324h3M424 348h1M424 349h1M424 348h1M424 349h1" transform="translate(0,0.5)"/>
</defs>
<rect width="784" height="612" fill="#fff"/>
<g clip-path="url(#band)" fill="#aaaaaa" stroke="none">
<use href="#land" x="-590"/>
<use href="#land" x="0"/>
<use href="#land" x="590"/>
<use href="#water" fill="#fff"/>
<path d="M373 406h2M353 385h1M376 409h2M365 408h1M354 408h1M353 393h1M396 392h1M392 398h1M353 384h1M380 394h2M372 385h1M357 393h1M377 394h1M391 391h1M399 397h1M383 382h1M371 386h2M407 408h1M388 383h2M382 392h1M358 398h1M360 395h1M420 408h2M391 383h1M374 400h1M392 396h1M419 396h2M354 388h1M448 375h1M435 396h2M437 377h1M431 405h1M432 399h2M433 396h1M427 394h2M435 404h1M456 400h1M460 386h1M459 404h1M430 387h1M442 389h1M435 404h2M438 390h1M449 392h2M448 384h1M457 383h2M528 372h1M508 370h1M491 381h1M510 380h2M491 383h1M515 357h2M490 359h2M507 366h1M518 370h1M530 356h1M512 375h1M493 374h1M512 364h2M490 357h2M506 364h1M526 375h2M531 364h1M514 358h1M526 368h2M505 377h1M528 360h2M528 378h1M506 382h1M527 370h1M522 357h1M528 363h1M535 373h1M493 370h1M498 366h2M530 370h2M180 356h2M173 365h2M193 362h1M183 356h1M195 344h1M184 353h1M193 373h1M170 358h1M195 374h2M201 356h1M174 360h1M169 345h2M172 352h1M183 348h1M170 372h2M177 358h1M547 357h1M559 379h1M551 358h2M543 353h2M534 388h2M530 375h1M549 360h1M535 373h2M533 392h2M546 370h1M558 392h1M538 360h2M544 394h1M544 367h2M549 386h1M544 371h1M214 372h2M229 351h1M231 353h1M228 375h1M209 370h2M203 377h2M206 376h1M232 360h1M446 362h1M450 360h1M483 379h2M480 379h1M488 374h1M449 376h2M457 375h1M461 383h1M465 376h1M445 361h1M429 429h1M383 413h1M383 428h1M421 417h1M392 420h2M403 417h1M384 415h1M393 429h1M407 415h1M405 426h1M422 422h1M431 423h1M501 417h2M488 415h1M489 412h1M501 400h1M490 401h1M489 390h1" stroke="#fff" stroke-width="1" fill="none"/>
</g>
<path d="M72.5 419.5H747M72.5 399.5H747M72.5 379.5H747M72.5 359.5H747M72.5 340.5H747M72.5 320.5H747M72.5 300.5H747M72.5 280.5H747M72.5 260.5H747M72.5 240.5H747M72.5 220.5H747M72.5 201.5H747M72.5 181.5H747" stroke="#aaaaaa" stroke-width="1" fill="none" stroke-dasharray="1.6 4.76" stroke-dashoffset="1.86"/>
<path d="M169.5 175V438M267.5 175V438M366.5 175V438M464.5 175V438M562.5 175V438M661.5 175V438" stroke="#aaaaaa" stroke-width="1" fill="none" stroke-dasharray="1.6 4.76" stroke-dashoffset="3"/>
<path d="M216.85 268.30 L216.85 288.50 M216.85 268.30 L228.72 268.30 M216.85 277.92 L224.16 277.92 M216.85 288.50 L228.72 288.50 M234.20 275.03 L234.20 288.50 M234.20 278.88 L236.94 275.99 L238.76 275.03 L241.50 275.03 L243.33 275.99 L244.24 278.88 L244.24 288.50 M252.46 268.30 L252.46 284.65 L253.37 287.54 L255.20 288.50 L257.02 288.50 M249.72 275.03 L256.11 275.03 M262.50 268.68 L262.50 267.91 M262.50 275.03 L262.50 288.50 M269.81 275.03 L269.81 288.50 M269.81 280.80 L270.72 277.92 L272.54 275.99 L274.37 275.03 L277.11 275.03 M280.76 280.80 L291.72 280.80 L291.72 278.88 L290.81 276.96 L289.89 275.99 L288.07 275.03 L285.33 275.03 L283.50 275.99 L281.68 277.92 L280.76 280.80 L280.76 282.73 L281.68 285.61 L283.50 287.54 L285.33 288.50 L288.07 288.50 L289.89 287.54 L291.72 285.61 M325.50 273.11 L324.59 271.18 L322.76 269.26 L320.93 268.30 L317.28 268.30 L315.46 269.26 L313.63 271.18 L312.72 273.11 L311.80 275.99 L311.80 280.80 L312.72 283.69 L313.63 285.61 L315.46 287.54 L317.28 288.50 L320.93 288.50 L322.76 287.54 L324.59 285.61 L325.50 283.69 L325.50 280.80 M320.93 280.80 L325.50 280.80 M331.89 275.03 L331.89 288.50 M331.89 280.80 L332.80 277.92 L334.63 275.99 L336.45 275.03 L339.19 275.03 M343.76 268.68 L343.76 267.91 M343.76 275.03 L343.76 288.50 M361.11 268.30 L361.11 288.50 M361.11 277.92 L359.28 275.99 L357.45 275.03 L354.72 275.03 L352.89 275.99 L351.06 277.92 L350.15 280.80 L350.15 282.73 L351.06 285.61 L352.89 287.54 L354.72 288.50 L357.45 288.50 L359.28 287.54 L361.11 285.61 M383.01 268.30 L383.01 282.73 L383.92 285.61 L385.72 287.54 L388.43 288.50 L390.24 288.50 L392.95 287.54 L394.76 285.61 L395.66 282.73 L395.66 268.30 M402.89 275.03 L402.89 288.50 M402.89 278.88 L405.60 275.99 L407.41 275.03 L410.12 275.03 L411.92 275.99 L412.83 278.88 L412.83 288.50 M429.99 268.30 L429.99 288.50 M429.99 277.92 L428.18 275.99 L426.38 275.03 L423.67 275.03 L421.86 275.99 L420.05 277.92 L419.15 280.80 L419.15 282.73 L420.05 285.61 L421.86 287.54 L423.67 288.50 L426.38 288.50 L428.18 287.54 L429.99 285.61 M436.31 280.80 L447.15 280.80 L447.15 278.88 L446.25 276.96 L445.35 275.99 L443.54 275.03 L440.83 275.03 L439.02 275.99 L437.22 277.92 L436.31 280.80 L436.31 282.73 L437.22 285.61 L439.02 287.54 L440.83 288.50 L443.54 288.50 L445.35 287.54 L447.15 285.61 M458.90 268.30 L457.09 268.30 L455.29 269.26 L454.38 272.15 L454.38 288.50 M451.67 275.03 L458.00 275.03 M464.32 268.68 L464.32 267.91 M464.32 275.03 L464.32 288.50 M471.55 275.03 L471.55 288.50 M471.55 278.88 L474.26 275.99 L476.06 275.03 L478.77 275.03 L480.58 275.99 L481.48 278.88 L481.48 288.50 M487.81 280.80 L498.65 280.80 L498.65 278.88 L497.75 276.96 L496.84 275.99 L495.04 275.03 L492.32 275.03 L490.52 275.99 L488.71 277.92 L487.81 280.80 L487.81 282.73 L488.71 285.61 L490.52 287.54 L492.32 288.50 L495.04 288.50 L496.84 287.54 L498.65 285.61 M514.91 268.30 L514.91 288.50 M514.91 277.92 L513.10 275.99 L511.30 275.03 L508.59 275.03 L506.78 275.99 L504.97 277.92 L504.07 280.80 L504.07 282.73 L504.97 285.61 L506.78 287.54 L508.59 288.50 L511.30 288.50 L513.10 287.54 L514.91 285.61" stroke="#000" stroke-width="1" fill="none" stroke-linejoin="round" stroke-linecap="square"/>
<g clip-path="url(#fr)" fill="none" stroke="#000" stroke-linejoin="round">
<use href="#land" x="-590" stroke-width="1"/>
<use href="#landT" x="-590" stroke-width="1.2"/>
<use href="#bord" x="-590" stroke-width="1"/>
<use href="#bordT" x="-590" stroke-width="1"/>
<use href="#tex" x="-590" stroke-width="1"/>
<use href="#land" x="0" stroke-width="1"/>
<use href="#landT" x="0" stroke-width="1.2"/>
<use href="#bord" x="0" stroke-width="1"/>
<use href="#bordT" x="0" stroke-width="1"/>
<use href="#tex" x="0" stroke-width="1"/>
<use href="#land" x="590" stroke-width="1"/>
<use href="#landT" x="590" stroke-width="1.2"/>
<use href="#bord" x="590" stroke-width="1"/>
<use href="#bordT" x="590" stroke-width="1"/>
<use href="#tex" x="590" stroke-width="1"/>
<use href="#water" stroke-width="1"/>
</g>
<rect x="71" y="174" width="677" height="265" fill="none" stroke="#000" stroke-width="2"/>
<path d="M66 439.5H70M66 419.5H70M66 399.5H70M66 379.5H70M66 359.5H70M66 340.5H70M66 320.5H70M66 300.5H70M66 280.5H70M66 260.5H70M66 240.5H70M66 220.5H70M66 201.5H70M66 181.5H70M71.5 440V444M169.5 440V444M267.5 440V444M366.5 440V444M464.5 440V444M562.5 440V444M661.5 440V444" stroke="#000" stroke-width="1" fill="none"/>
<path d="M306 533.5L363.5 526.5V540.5z M420.5 526.5L478 533.5L420.5 540.5z" fill="#aaaaaa" stroke="#000" stroke-width="1"/>
<rect x="363.5" y="526.5" width="57" height="14" fill="#fff" stroke="#000" stroke-width="1"/>
<path d="M46.23 434.50 L46.23 444.50 M46.23 434.50 L51.67 434.50 M46.23 439.26 L49.58 439.26 M46.23 444.50 L51.67 444.50 M56.27 434.50 L55.43 434.98 L54.59 435.93 L54.18 436.88 L53.76 438.31 L53.76 440.69 L54.18 442.12 L54.59 443.07 L55.43 444.02 L56.27 444.50 L57.94 444.50 L58.77 444.02 L59.61 443.07 L60.03 442.12 L60.45 440.69 L60.45 438.31 L60.03 436.88 L59.61 435.93 L58.77 434.98 L57.94 434.50 L56.27 434.50 M57.52 442.60 L60.03 445.45 M38.29 416.41 L39.13 415.93 L40.38 414.50 L40.38 424.50 M47.91 414.50 L46.65 414.98 L45.82 416.41 L45.40 418.79 L45.40 420.22 L45.82 422.60 L46.65 424.02 L47.91 424.50 L48.74 424.50 L50.00 424.02 L50.83 422.60 L51.25 420.22 L51.25 418.79 L50.83 416.41 L50.00 414.98 L48.74 414.50 L47.91 414.50 M54.18 414.50 L54.18 424.50 M54.18 414.50 L60.03 424.50 M60.03 414.50 L60.03 424.50 M37.46 396.88 L37.46 396.41 L37.87 395.46 L38.29 394.98 L39.13 394.50 L40.80 394.50 L41.64 394.98 L42.05 395.46 L42.47 396.41 L42.47 397.36 L42.05 398.31 L41.22 399.74 L37.04 404.50 L42.89 404.50 M47.91 394.50 L46.65 394.98 L45.82 396.41 L45.40 398.79 L45.40 400.22 L45.82 402.60 L46.65 404.02 L47.91 404.50 L48.74 404.50 L50.00 404.02 L50.83 402.60 L51.25 400.22 L51.25 398.79 L50.83 396.41 L50.00 394.98 L48.74 394.50 L47.91 394.50 M54.18 394.50 L54.18 404.50 M54.18 394.50 L60.03 404.50 M60.03 394.50 L60.03 404.50 M37.87 374.50 L42.47 374.50 L39.96 378.31 L41.22 378.31 L42.05 378.79 L42.47 379.26 L42.89 380.69 L42.89 381.64 L42.47 383.07 L41.64 384.02 L40.38 384.50 L39.13 384.50 L37.87 384.02 L37.46 383.55 L37.04 382.60 M47.91 374.50 L46.65 374.98 L45.82 376.41 L45.40 378.79 L45.40 380.22 L45.82 382.60 L46.65 384.02 L47.91 384.50 L48.74 384.50 L50.00 384.02 L50.83 382.60 L51.25 380.22 L51.25 378.79 L50.83 376.41 L50.00 374.98 L48.74 374.50 L47.91 374.50 M54.18 374.50 L54.18 384.50 M54.18 374.50 L60.03 384.50 M60.03 374.50 L60.03 384.50 M41.22 354.50 L37.04 361.17 L43.31 361.17 M41.22 354.50 L41.22 364.50 M47.91 354.50 L46.65 354.98 L45.82 356.41 L45.40 358.79 L45.40 360.22 L45.82 362.60 L46.65 364.02 L47.91 364.50 L48.74 364.50 L50.00 364.02 L50.83 362.60 L51.25 360.22 L51.25 358.79 L50.83 356.41 L50.00 354.98 L48.74 354.50 L47.91 354.50 M54.18 354.50 L54.18 364.50 M54.18 354.50 L60.03 364.50 M60.03 354.50 L60.03 364.50 M42.05 335.50 L37.87 335.50 L37.46 339.79 L37.87 339.31 L39.13 338.84 L40.38 338.84 L41.64 339.31 L42.47 340.26 L42.89 341.69 L42.89 342.64 L42.47 344.07 L41.64 345.02 L40.38 345.50 L39.13 345.50 L37.87 345.02 L37.46 344.55 L37.04 343.60 M47.91 335.50 L46.65 335.98 L45.82 337.41 L45.40 339.79 L45.40 341.22 L45.82 343.60 L46.65 345.02 L47.91 345.50 L48.74 345.50 L50.00 345.02 L50.83 343.60 L51.25 341.22 L51.25 339.79 L50.83 337.41 L50.00 335.98 L48.74 335.50 L47.91 335.50 M54.18 335.50 L54.18 345.50 M54.18 335.50 L60.03 345.50 M60.03 335.50 L60.03 345.50 M42.47 316.93 L42.05 315.98 L40.80 315.50 L39.96 315.50 L38.71 315.98 L37.87 317.41 L37.46 319.79 L37.46 322.17 L37.87 324.07 L38.71 325.02 L39.96 325.50 L40.38 325.50 L41.64 325.02 L42.47 324.07 L42.89 322.64 L42.89 322.17 L42.47 320.74 L41.64 319.79 L40.38 319.31 L39.96 319.31 L38.71 319.79 L37.87 320.74 L37.46 322.17 M47.91 315.50 L46.65 315.98 L45.82 317.41 L45.40 319.79 L45.40 321.22 L45.82 323.60 L46.65 325.02 L47.91 325.50 L48.74 325.50 L50.00 325.02 L50.83 323.60 L51.25 321.22 L51.25 319.79 L50.83 317.41 L50.00 315.98 L48.74 315.50 L47.91 315.50 M54.18 315.50 L54.18 325.50 M54.18 315.50 L60.03 325.50 M60.03 315.50 L60.03 325.50 M42.89 295.50 L38.71 305.50 M37.04 295.50 L42.89 295.50 M47.91 295.50 L46.65 295.98 L45.82 297.41 L45.40 299.79 L45.40 301.22 L45.82 303.60 L46.65 305.02 L47.91 305.50 L48.74 305.50 L50.00 305.02 L50.83 303.60 L51.25 301.22 L51.25 299.79 L50.83 297.41 L50.00 295.98 L48.74 295.50 L47.91 295.50 M54.18 295.50 L54.18 305.50 M54.18 295.50 L60.03 305.50 M60.03 295.50 L60.03 305.50 M39.13 275.50 L37.87 275.98 L37.46 276.93 L37.46 277.88 L37.87 278.84 L38.71 279.31 L40.38 279.79 L41.64 280.26 L42.47 281.22 L42.89 282.17 L42.89 283.60 L42.47 284.55 L42.05 285.02 L40.80 285.50 L39.13 285.50 L37.87 285.02 L37.46 284.55 L37.04 283.60 L37.04 282.17 L37.46 281.22 L38.29 280.26 L39.55 279.79 L41.22 279.31 L42.05 278.84 L42.47 277.88 L42.47 276.93 L42.05 275.98 L40.80 275.50 L39.13 275.50 M47.91 275.50 L46.65 275.98 L45.82 277.41 L45.40 279.79 L45.40 281.22 L45.82 283.60 L46.65 285.02 L47.91 285.50 L48.74 285.50 L50.00 285.02 L50.83 283.60 L51.25 281.22 L51.25 279.79 L50.83 277.41 L50.00 275.98 L48.74 275.50 L47.91 275.50 M54.18 275.50 L54.18 285.50 M54.18 275.50 L60.03 285.50 M60.03 275.50 L60.03 285.50 M42.47 258.84 L42.05 260.26 L41.22 261.22 L39.96 261.69 L39.55 261.69 L38.29 261.22 L37.46 260.26 L37.04 258.84 L37.04 258.36 L37.46 256.93 L38.29 255.98 L39.55 255.50 L39.96 255.50 L41.22 255.98 L42.05 256.93 L42.47 258.84 L42.47 261.22 L42.05 263.60 L41.22 265.02 L39.96 265.50 L39.13 265.50 L37.87 265.02 L37.46 264.07 M47.91 255.50 L46.65 255.98 L45.82 257.41 L45.40 259.79 L45.40 261.22 L45.82 263.60 L46.65 265.02 L47.91 265.50 L48.74 265.50 L50.00 265.02 L50.83 263.60 L51.25 261.22 L51.25 259.79 L50.83 257.41 L50.00 255.98 L48.74 255.50 L47.91 255.50 M54.18 255.50 L54.18 265.50 M54.18 255.50 L60.03 265.50 M60.03 255.50 L60.03 265.50 M29.93 237.41 L30.77 236.93 L32.02 235.50 L32.02 245.50 M39.55 235.50 L38.29 235.98 L37.46 237.41 L37.04 239.79 L37.04 241.22 L37.46 243.60 L38.29 245.02 L39.55 245.50 L40.38 245.50 L41.64 245.02 L42.47 243.60 L42.89 241.22 L42.89 239.79 L42.47 237.41 L41.64 235.98 L40.38 235.50 L39.55 235.50 M47.91 235.50 L46.65 235.98 L45.82 237.41 L45.40 239.79 L45.40 241.22 L45.82 243.60 L46.65 245.02 L47.91 245.50 L48.74 245.50 L50.00 245.02 L50.83 243.60 L51.25 241.22 L51.25 239.79 L50.83 237.41 L50.00 235.98 L48.74 235.50 L47.91 235.50 M54.18 235.50 L54.18 245.50 M54.18 235.50 L60.03 245.50 M60.03 235.50 L60.03 245.50 M29.93 217.41 L30.77 216.93 L32.02 215.50 L32.02 225.50 M38.29 217.41 L39.13 216.93 L40.38 215.50 L40.38 225.50 M47.91 215.50 L46.65 215.98 L45.82 217.41 L45.40 219.79 L45.40 221.22 L45.82 223.60 L46.65 225.02 L47.91 225.50 L48.74 225.50 L50.00 225.02 L50.83 223.60 L51.25 221.22 L51.25 219.79 L50.83 217.41 L50.00 215.98 L48.74 215.50 L47.91 215.50 M54.18 215.50 L54.18 225.50 M54.18 215.50 L60.03 225.50 M60.03 215.50 L60.03 225.50 M29.93 198.41 L30.77 197.93 L32.02 196.50 L32.02 206.50 M37.46 198.88 L37.46 198.41 L37.87 197.46 L38.29 196.98 L39.13 196.50 L40.80 196.50 L41.64 196.98 L42.05 197.46 L42.47 198.41 L42.47 199.36 L42.05 200.31 L41.22 201.74 L37.04 206.50 L42.89 206.50 M47.91 196.50 L46.65 196.98 L45.82 198.41 L45.40 200.79 L45.40 202.22 L45.82 204.60 L46.65 206.02 L47.91 206.50 L48.74 206.50 L50.00 206.02 L50.83 204.60 L51.25 202.22 L51.25 200.79 L50.83 198.41 L50.00 196.98 L48.74 196.50 L47.91 196.50 M54.18 196.50 L54.18 206.50 M54.18 196.50 L60.03 206.50 M60.03 196.50 L60.03 206.50 M29.93 178.41 L30.77 177.93 L32.02 176.50 L32.02 186.50 M37.87 176.50 L42.47 176.50 L39.96 180.31 L41.22 180.31 L42.05 180.79 L42.47 181.26 L42.89 182.69 L42.89 183.64 L42.47 185.07 L41.64 186.02 L40.38 186.50 L39.13 186.50 L37.87 186.02 L37.46 185.55 L37.04 184.60 M47.91 176.50 L46.65 176.98 L45.82 178.41 L45.40 180.79 L45.40 182.22 L45.82 184.60 L46.65 186.02 L47.91 186.50 L48.74 186.50 L50.00 186.02 L50.83 184.60 L51.25 182.22 L51.25 180.79 L50.83 178.41 L50.00 176.98 L48.74 176.50 L47.91 176.50 M54.18 176.50 L54.18 186.50 M54.18 176.50 L60.03 186.50 M60.03 176.50 L60.03 186.50 M61.47 449.41 L62.30 448.93 L63.56 447.50 L63.56 457.50 M70.66 447.50 L69.41 447.98 L68.99 448.93 L68.99 449.88 L69.41 450.84 L70.25 451.31 L71.92 451.79 L73.17 452.26 L74.01 453.22 L74.43 454.17 L74.43 455.60 L74.01 456.55 L73.59 457.02 L72.34 457.50 L70.66 457.50 L69.41 457.02 L68.99 456.55 L68.57 455.60 L68.57 454.17 L68.99 453.22 L69.83 452.26 L71.08 451.79 L72.75 451.31 L73.59 450.84 L74.01 449.88 L74.01 448.93 L73.59 447.98 L72.34 447.50 L70.66 447.50 M79.44 447.50 L78.19 447.98 L77.35 449.41 L76.93 451.79 L76.93 453.22 L77.35 455.60 L78.19 457.02 L79.44 457.50 L80.28 457.50 L81.53 457.02 L82.37 455.60 L82.79 453.22 L82.79 451.79 L82.37 449.41 L81.53 447.98 L80.28 447.50 L79.44 447.50 M154.45 449.41 L155.29 448.93 L156.54 447.50 L156.54 457.50 M161.98 449.88 L161.98 449.41 L162.39 448.46 L162.81 447.98 L163.65 447.50 L165.32 447.50 L166.16 447.98 L166.57 448.46 L166.99 449.41 L166.99 450.36 L166.57 451.31 L165.74 452.74 L161.56 457.50 L167.41 457.50 M172.43 447.50 L171.17 447.98 L170.34 449.41 L169.92 451.79 L169.92 453.22 L170.34 455.60 L171.17 457.02 L172.43 457.50 L173.26 457.50 L174.52 457.02 L175.35 455.60 L175.77 453.22 L175.77 451.79 L175.35 449.41 L174.52 447.98 L173.26 447.50 L172.43 447.50 M177.86 447.50 L179.95 457.50 M182.04 447.50 L179.95 457.50 M182.04 447.50 L184.13 457.50 M186.22 447.50 L184.13 457.50 M260.81 448.93 L260.39 447.98 L259.14 447.50 L258.30 447.50 L257.05 447.98 L256.21 449.41 L255.80 451.79 L255.80 454.17 L256.21 456.07 L257.05 457.02 L258.30 457.50 L258.72 457.50 L259.98 457.02 L260.81 456.07 L261.23 454.64 L261.23 454.17 L260.81 452.74 L259.98 451.79 L258.72 451.31 L258.30 451.31 L257.05 451.79 L256.21 452.74 L255.80 454.17 M266.25 447.50 L264.99 447.98 L264.16 449.41 L263.74 451.79 L263.74 453.22 L264.16 455.60 L264.99 457.02 L266.25 457.50 L267.08 457.50 L268.34 457.02 L269.17 455.60 L269.59 453.22 L269.59 451.79 L269.17 449.41 L268.34 447.98 L267.08 447.50 L266.25 447.50 M271.68 447.50 L273.77 457.50 M275.86 447.50 L273.77 457.50 M275.86 447.50 L277.95 457.50 M280.04 447.50 L277.95 457.50 M366.08 447.50 L364.83 447.98 L363.99 449.41 L363.57 451.79 L363.57 453.22 L363.99 455.60 L364.83 457.02 L366.08 457.50 L366.92 457.50 L368.17 457.02 L369.01 455.60 L369.43 453.22 L369.43 451.79 L369.01 449.41 L368.17 447.98 L366.92 447.50 L366.08 447.50 M458.86 448.93 L458.44 447.98 L457.19 447.50 L456.35 447.50 L455.09 447.98 L454.26 449.41 L453.84 451.79 L453.84 454.17 L454.26 456.07 L455.09 457.02 L456.35 457.50 L456.77 457.50 L458.02 457.02 L458.86 456.07 L459.27 454.64 L459.27 454.17 L458.86 452.74 L458.02 451.79 L456.77 451.31 L456.35 451.31 L455.09 451.79 L454.26 452.74 L453.84 454.17 M464.29 447.50 L463.04 447.98 L462.20 449.41 L461.78 451.79 L461.78 453.22 L462.20 455.60 L463.04 457.02 L464.29 457.50 L465.13 457.50 L466.38 457.02 L467.22 455.60 L467.63 453.22 L467.63 451.79 L467.22 449.41 L466.38 447.98 L465.13 447.50 L464.29 447.50 M470.56 447.50 L470.56 457.50 M470.56 447.50 L476.00 447.50 M470.56 452.26 L473.90 452.26 M470.56 457.50 L476.00 457.50 M548.50 449.41 L549.33 448.93 L550.59 447.50 L550.59 457.50 M556.02 449.88 L556.02 449.41 L556.44 448.46 L556.86 447.98 L557.69 447.50 L559.37 447.50 L560.20 447.98 L560.62 448.46 L561.04 449.41 L561.04 450.36 L560.62 451.31 L559.78 452.74 L555.60 457.50 L561.46 457.50 M566.47 447.50 L565.22 447.98 L564.38 449.41 L563.96 451.79 L563.96 453.22 L564.38 455.60 L565.22 457.02 L566.47 457.50 L567.31 457.50 L568.56 457.02 L569.40 455.60 L569.82 453.22 L569.82 451.79 L569.40 449.41 L568.56 447.98 L567.31 447.50 L566.47 447.50 M572.74 447.50 L572.74 457.50 M572.74 447.50 L578.18 447.50 M572.74 452.26 L576.09 452.26 M572.74 457.50 L578.18 457.50 M651.47 449.41 L652.30 448.93 L653.56 447.50 L653.56 457.50 M660.66 447.50 L659.41 447.98 L658.99 448.93 L658.99 449.88 L659.41 450.84 L660.25 451.31 L661.92 451.79 L663.17 452.26 L664.01 453.22 L664.43 454.17 L664.43 455.60 L664.01 456.55 L663.59 457.02 L662.34 457.50 L660.66 457.50 L659.41 457.02 L658.99 456.55 L658.57 455.60 L658.57 454.17 L658.99 453.22 L659.83 452.26 L661.08 451.79 L662.75 451.31 L663.59 450.84 L664.01 449.88 L664.01 448.93 L663.59 447.98 L662.34 447.50 L660.66 447.50 M669.44 447.50 L668.19 447.98 L667.35 449.41 L666.93 451.79 L666.93 453.22 L667.35 455.60 L668.19 457.02 L669.44 457.50 L670.28 457.50 L671.53 457.02 L672.37 455.60 L672.79 453.22 L672.79 451.79 L672.37 449.41 L671.53 447.98 L670.28 447.50 L669.44 447.50 M341.76 544.50 L337.58 551.17 L343.85 551.17 M341.76 544.50 L341.76 554.50 M347.20 546.41 L348.03 545.93 L349.29 544.50 L349.29 554.50 M355.14 544.50 L359.74 544.50 L357.23 548.31 L358.48 548.31 L359.32 548.79 L359.74 549.26 L360.16 550.69 L360.16 551.64 L359.74 553.07 L358.90 554.02 L357.65 554.50 L356.39 554.50 L355.14 554.02 L354.72 553.55 L354.30 552.60 M363.50 553.55 L363.08 554.02 L363.50 554.50 L363.92 554.02 L363.50 553.55 M368.10 546.41 L368.93 545.93 L370.19 544.50 L370.19 554.50 M380.64 547.84 L380.22 549.26 L379.38 550.22 L378.13 550.69 L377.71 550.69 L376.46 550.22 L375.62 549.26 L375.20 547.84 L375.20 547.36 L375.62 545.93 L376.46 544.98 L377.71 544.50 L378.13 544.50 L379.38 544.98 L380.22 545.93 L380.64 547.84 L380.64 550.22 L380.22 552.60 L379.38 554.02 L378.13 554.50 L377.29 554.50 L376.04 554.02 L375.62 553.07 M385.65 544.50 L384.40 544.98 L383.98 545.93 L383.98 546.88 L384.40 547.84 L385.24 548.31 L386.91 548.79 L388.16 549.26 L389.00 550.22 L389.42 551.17 L389.42 552.60 L389.00 553.55 L388.58 554.02 L387.33 554.50 L385.65 554.50 L384.40 554.02 L383.98 553.55 L383.56 552.60 L383.56 551.17 L383.98 550.22 L384.82 549.26 L386.07 548.79 L387.74 548.31 L388.58 547.84 L389.00 546.88 L389.00 545.93 L388.58 544.98 L387.33 544.50 L385.65 544.50 M381.71 544.50 L377.53 551.17 L383.80 551.17 M381.71 544.50 L381.71 554.50 M386.72 553.55 L386.31 554.02 L386.72 554.50 L387.14 554.02 L386.72 553.55 M391.32 546.41 L392.16 545.93 L393.41 544.50 L393.41 554.50 M399.26 544.50 L403.86 544.50 L401.35 548.31 L402.61 548.31 L403.44 548.79 L403.86 549.26 L404.28 550.69 L404.28 551.64 L403.86 553.07 L403.03 554.02 L401.77 554.50 L400.52 554.50 L399.26 554.02 L398.85 553.55 L398.43 552.60 M408.04 546.41 L408.88 545.93 L410.13 544.50 L410.13 554.50 M420.58 547.84 L420.16 549.26 L419.33 550.22 L418.07 550.69 L417.66 550.69 L416.40 550.22 L415.57 549.26 L415.15 547.84 L415.15 547.36 L415.57 545.93 L416.40 544.98 L417.66 544.50 L418.07 544.50 L419.33 544.98 L420.16 545.93 L420.58 547.84 L420.58 550.22 L420.16 552.60 L419.33 554.02 L418.07 554.50 L417.24 554.50 L415.98 554.02 L415.57 553.07 M425.60 544.50 L424.34 544.98 L423.93 545.93 L423.93 546.88 L424.34 547.84 L425.18 548.31 L426.85 548.79 L428.11 549.26 L428.94 550.22 L429.36 551.17 L429.36 552.60 L428.94 553.55 L428.52 554.02 L427.27 554.50 L425.60 554.50 L424.34 554.02 L423.93 553.55 L423.51 552.60 L423.51 551.17 L423.93 550.22 L424.76 549.26 L426.02 548.79 L427.69 548.31 L428.52 547.84 L428.94 546.88 L428.94 545.93 L428.52 544.98 L427.27 544.50 L425.60 544.50 M431.87 550.69 L436.88 550.69 L436.88 549.74 L436.47 548.79 L436.05 548.31 L435.21 547.84 L433.96 547.84 L433.12 548.31 L432.29 549.26 L431.87 550.69 L431.87 551.64 L432.29 553.07 L433.12 554.02 L433.96 554.50 L435.21 554.50 L436.05 554.02 L436.88 553.07 M443.57 545.93 L443.57 554.50 M439.81 550.22 L447.33 550.22 M452.77 544.50 L451.51 544.98 L450.68 546.41 L450.26 548.79 L450.26 550.22 L450.68 552.60 L451.51 554.02 L452.77 554.50 L453.60 554.50 L454.86 554.02 L455.69 552.60 L456.11 550.22 L456.11 548.79 L455.69 546.41 L454.86 544.98 L453.60 544.50 L452.77 544.50 M464.05 545.93 L463.64 544.98 L462.38 544.50 L461.55 544.50 L460.29 544.98 L459.46 546.41 L459.04 548.79 L459.04 551.17 L459.46 553.07 L460.29 554.02 L461.55 554.50 L461.96 554.50 L463.22 554.02 L464.05 553.07 L464.47 551.64 L464.47 551.17 L464.05 549.74 L463.22 548.79 L461.96 548.31 L461.55 548.31 L460.29 548.79 L459.46 549.74 L459.04 551.17 M460.67 542.60 L460.67 557.83 M461.09 542.60 L461.09 557.83 M460.67 542.60 L463.60 542.60 M460.67 557.83 L463.60 557.83 M466.52 547.84 L466.52 554.50 M466.52 549.74 L467.78 548.31 L468.61 547.84 L469.87 547.84 L470.70 548.31 L471.12 549.74 L471.12 554.50 M471.12 549.74 L472.38 548.31 L473.21 547.84 L474.47 547.84 L475.30 548.31 L475.72 549.74 L475.72 554.50 M479.06 547.84 L479.06 554.50 M479.06 549.74 L480.32 548.31 L481.15 547.84 L482.41 547.84 L483.24 548.31 L483.66 549.74 L483.66 554.50 M483.66 549.74 L484.92 548.31 L485.75 547.84 L487.01 547.84 L487.84 548.31 L488.26 549.74 L488.26 554.50 M493.69 542.60 L493.69 557.83 M494.11 542.60 L494.11 557.83 M491.19 542.60 L494.11 542.60 M491.19 557.83 L494.11 557.83" stroke="#000" stroke-width="1" fill="none" stroke-linejoin="round" stroke-linecap="square"/>
<path d="M143.98 143.99 L143.98 161.00 M143.98 143.99 L150.47 143.99 L152.63 144.80 L153.35 145.61 L154.07 147.23 L154.07 148.85 L153.35 150.47 L152.63 151.28 L150.47 152.09 L143.98 152.09 M149.03 152.09 L154.07 161.00 M167.05 149.66 L167.05 161.00 M167.05 152.09 L165.61 150.47 L164.17 149.66 L162.00 149.66 L160.56 150.47 L159.12 152.09 L158.40 154.52 L158.40 156.14 L159.12 158.57 L160.56 160.19 L162.00 161.00 L164.17 161.00 L165.61 160.19 L167.05 158.57 M172.82 144.31 L172.82 143.67 M172.82 149.66 L172.82 161.00 M178.58 149.66 L178.58 161.00 M178.58 152.90 L180.74 150.47 L182.19 149.66 L184.35 149.66 L185.79 150.47 L186.51 152.90 L186.51 161.00 M196.60 143.99 L195.16 143.99 L193.72 144.80 L193.00 147.23 L193.00 161.00 M190.84 149.66 L195.88 149.66 M208.86 149.66 L208.86 161.00 M208.86 152.09 L207.41 150.47 L205.97 149.66 L203.81 149.66 L202.37 150.47 L200.93 152.09 L200.21 154.52 L200.21 156.14 L200.93 158.57 L202.37 160.19 L203.81 161.00 L205.97 161.00 L207.41 160.19 L208.86 158.57 M214.62 143.99 L214.62 161.00 M220.39 143.99 L220.39 161.00 M242.73 140.75 L241.29 142.37 L239.85 144.80 L238.41 148.04 L237.69 152.09 L237.69 155.33 L238.41 159.38 L239.85 162.62 L241.29 165.05 L242.73 166.67 M257.15 143.99 L249.94 161.00 M247.06 143.99 L257.15 143.99 M262.19 153.71 L275.17 153.71 M288.86 143.99 L288.86 161.00 M288.86 152.09 L287.42 150.47 L285.98 149.66 L283.82 149.66 L282.38 150.47 L280.94 152.09 L280.21 154.52 L280.21 156.14 L280.94 158.57 L282.38 160.19 L283.82 161.00 L285.98 161.00 L287.42 160.19 L288.86 158.57 M302.56 149.66 L302.56 161.00 M302.56 152.09 L301.12 150.47 L299.68 149.66 L297.51 149.66 L296.07 150.47 L294.63 152.09 L293.91 154.52 L293.91 156.14 L294.63 158.57 L296.07 160.19 L297.51 161.00 L299.68 161.00 L301.12 160.19 L302.56 158.57 M306.88 149.66 L311.21 161.00 M315.53 149.66 L311.21 161.00 L309.77 164.24 L308.33 165.86 L306.88 166.67 L306.16 166.67 M339.32 149.66 L339.32 161.00 M339.32 152.09 L337.88 150.47 L336.44 149.66 L334.27 149.66 L332.83 150.47 L331.39 152.09 L330.67 154.52 L330.67 156.14 L331.39 158.57 L332.83 160.19 L334.27 161.00 L336.44 161.00 L337.88 160.19 L339.32 158.57 M353.02 152.09 L351.57 150.47 L350.13 149.66 L347.97 149.66 L346.53 150.47 L345.09 152.09 L344.37 154.52 L344.37 156.14 L345.09 158.57 L346.53 160.19 L347.97 161.00 L350.13 161.00 L351.57 160.19 L353.02 158.57 M365.99 152.09 L364.55 150.47 L363.11 149.66 L360.94 149.66 L359.50 150.47 L358.06 152.09 L357.34 154.52 L357.34 156.14 L358.06 158.57 L359.50 160.19 L360.94 161.00 L363.11 161.00 L364.55 160.19 L365.99 158.57 M371.04 149.66 L371.04 157.76 L371.76 160.19 L373.20 161.00 L375.36 161.00 L376.80 160.19 L378.96 157.76 M378.96 149.66 L378.96 161.00 M384.73 149.66 L384.73 161.00 M384.73 152.90 L386.89 150.47 L388.33 149.66 L390.50 149.66 L391.94 150.47 L392.66 152.90 L392.66 161.00 M392.66 152.90 L394.82 150.47 L396.26 149.66 L398.43 149.66 L399.87 150.47 L400.59 152.90 L400.59 161.00 M407.08 159.38 L406.35 160.19 L407.08 161.00 L407.80 160.19 L407.08 159.38 M412.84 140.75 L414.28 142.37 L415.72 144.80 L417.17 148.04 L417.89 152.09 L417.89 155.33 L417.17 159.38 L415.72 162.62 L414.28 165.05 L412.84 166.67 M435.19 140.75 L435.19 166.67 M435.91 140.75 L435.91 166.67 M435.19 140.75 L440.23 140.75 M435.19 166.67 L440.23 166.67 M445.28 149.66 L445.28 161.00 M445.28 152.90 L447.44 150.47 L448.88 149.66 L451.04 149.66 L452.49 150.47 L453.21 152.90 L453.21 161.00 M453.21 152.90 L455.37 150.47 L456.81 149.66 L458.97 149.66 L460.41 150.47 L461.14 152.90 L461.14 161.00 M466.90 149.66 L466.90 161.00 M466.90 152.90 L469.06 150.47 L470.51 149.66 L472.67 149.66 L474.11 150.47 L474.83 152.90 L474.83 161.00 M474.83 152.90 L476.99 150.47 L478.43 149.66 L480.60 149.66 L482.04 150.47 L482.76 152.90 L482.76 161.00 M492.13 140.75 L492.13 166.67 M492.85 140.75 L492.85 166.67 M487.80 140.75 L492.85 140.75 M487.80 166.67 L492.85 166.67 M511.59 147.23 L513.03 146.42 L515.20 143.99 L515.20 161.00 M525.29 143.99 L533.22 143.99 L528.89 150.47 L531.05 150.47 L532.49 151.28 L533.22 152.09 L533.94 154.52 L533.94 156.14 L533.22 158.57 L531.77 160.19 L529.61 161.00 L527.45 161.00 L525.29 160.19 L524.57 159.38 L523.84 157.76 M548.35 143.99 L538.26 161.00 M538.26 143.99 L548.35 143.99 M538.26 161.00 L548.35 161.00 M554.84 147.23 L556.28 146.42 L558.44 143.99 L558.44 161.00 M571.42 143.99 L569.26 144.80 L567.81 147.23 L567.09 151.28 L567.09 153.71 L567.81 157.76 L569.26 160.19 L571.42 161.00 L572.86 161.00 L575.02 160.19 L576.46 157.76 L577.18 153.71 L577.18 151.28 L576.46 147.23 L575.02 144.80 L572.86 143.99 L571.42 143.99 M585.83 143.99 L580.07 161.00 M585.83 143.99 L591.60 161.00 M582.23 155.33 L589.44 155.33 M595.20 149.66 L595.20 157.76 L595.92 160.19 L597.37 161.00 L599.53 161.00 L600.97 160.19 L603.13 157.76 M603.13 149.66 L603.13 161.00 M616.83 149.66 L616.83 162.62 L616.11 165.05 L615.39 165.86 L613.94 166.67 L611.78 166.67 L610.34 165.86 M616.83 152.09 L615.39 150.47 L613.94 149.66 L611.78 149.66 L610.34 150.47 L608.90 152.09 L608.18 154.52 L608.18 156.14 L608.90 158.57 L610.34 160.19 L611.78 161.00 L613.94 161.00 L615.39 160.19 L616.83 158.57 M622.59 148.04 L622.59 147.23 L623.32 145.61 L624.04 144.80 L625.48 143.99 L628.36 143.99 L629.80 144.80 L630.52 145.61 L631.24 147.23 L631.24 148.85 L630.52 150.47 L629.08 152.90 L621.87 161.00 L631.96 161.00 M640.61 143.99 L638.45 144.80 L637.01 147.23 L636.29 151.28 L636.29 153.71 L637.01 157.76 L638.45 160.19 L640.61 161.00 L642.06 161.00 L644.22 160.19 L645.66 157.76 L646.38 153.71 L646.38 151.28 L645.66 147.23 L644.22 144.80 L642.06 143.99 L640.61 143.99 M652.87 147.23 L654.31 146.42 L656.47 143.99 L656.47 161.00 M668.73 143.99 L666.56 144.80 L665.84 146.42 L665.84 148.04 L666.56 149.66 L668.00 150.47 L670.89 151.28 L673.05 152.09 L674.49 153.71 L675.21 155.33 L675.21 157.76 L674.49 159.38 L673.77 160.19 L671.61 161.00 L668.73 161.00 L666.56 160.19 L665.84 159.38 L665.12 157.76 L665.12 155.33 L665.84 153.71 L667.28 152.09 L669.45 151.28 L672.33 150.47 L673.77 149.66 L674.49 148.04 L674.49 146.42 L673.77 144.80 L671.61 143.99 L668.73 143.99" stroke="#000" stroke-width="2" fill="none" stroke-linejoin="round" stroke-linecap="square"/>
</svg>
</body></html>
